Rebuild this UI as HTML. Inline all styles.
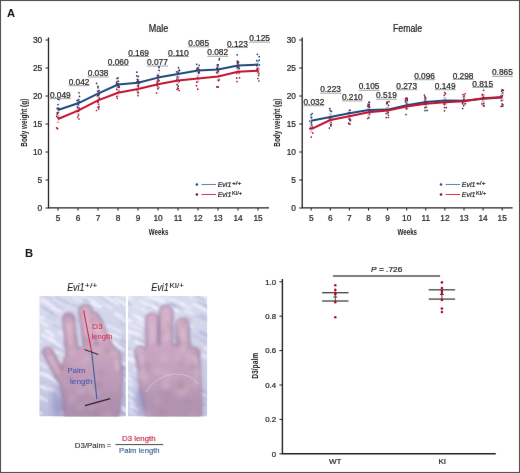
<!DOCTYPE html>
<html><head><meta charset="utf-8"><style>
html,body{margin:0;padding:0;background:#fff;}
svg{display:block;}
#wrap{will-change:transform;width:520px;height:473px;}
text{font-family:"Liberation Sans", sans-serif;}
</style></head><body><div id="wrap">
<svg width="520" height="473" viewBox="0 0 520 473" font-family='"Liberation Sans", sans-serif'><defs><filter id="gb" x="0" y="0" width="100%" height="100%" filterUnits="userSpaceOnUse" color-interpolation-filters="sRGB"><feConvolveMatrix order="3" kernelMatrix="0.00163 0.03713 0.00163 0.03713 0.84497 0.03713 0.00163 0.03713 0.00163" divisor="1" preserveAlpha="true" edgeMode="duplicate"/></filter></defs><g filter="url(#gb)"><rect x="0.5" y="0.5" width="519" height="472" fill="#fff" stroke="#505050" stroke-width="1.1"/><defs>
<filter id="bl2" x="-20%" y="-20%" width="140%" height="140%"><feGaussianBlur stdDeviation="1.5"/></filter>
<filter id="bl3" x="-30%" y="-30%" width="160%" height="160%"><feGaussianBlur stdDeviation="3"/></filter>
<filter id="bl1" x="-20%" y="-20%" width="140%" height="140%"><feGaussianBlur stdDeviation="0.6"/></filter>
<filter id="blM" x="-20%" y="-20%" width="140%" height="140%"><feGaussianBlur stdDeviation="2.2"/></filter>
<filter id="blS" x="-5%" y="-5%" width="110%" height="110%"><feGaussianBlur stdDeviation="0.9"/></filter>
<filter id="blt" x="-20%" y="-20%" width="140%" height="140%"><feGaussianBlur stdDeviation="0.3"/></filter>
<clipPath id="c1"><rect x="39.3" y="296" width="86.6" height="120.4"/></clipPath>
<clipPath id="c2"><rect x="128" y="296" width="79.3" height="120.4"/></clipPath>
<linearGradient id="bg1" x1="0" y1="0" x2="0.3" y2="1">
<stop offset="0" stop-color="#dcdef0"/><stop offset="0.55" stop-color="#d0d2e8"/><stop offset="1" stop-color="#b8bcdc"/></linearGradient>
<linearGradient id="bg2" x1="0" y1="0" x2="0.3" y2="1">
<stop offset="0" stop-color="#dcdef0"/><stop offset="0.6" stop-color="#d2d4ea"/><stop offset="1" stop-color="#c4c8e4"/></linearGradient>
<linearGradient id="pg1" gradientUnits="userSpaceOnUse" x1="0" y1="305" x2="0" y2="418">
<stop offset="0" stop-color="#d4aec8"/><stop offset="0.45" stop-color="#c6a2be"/><stop offset="1" stop-color="#b092b0"/></linearGradient>
<linearGradient id="pg2" gradientUnits="userSpaceOnUse" x1="0" y1="305" x2="0" y2="418">
<stop offset="0" stop-color="#d6b2cc"/><stop offset="0.45" stop-color="#c6a4c0"/><stop offset="1" stop-color="#b498b4"/></linearGradient>
</defs>
<g clip-path="url(#c1)">
<rect x="39.3" y="296" width="86.6" height="120.4" fill="url(#bg1)"/>
<g filter="url(#blS)">
<line x1="71.2" y1="360.5" x2="84.8" y2="367.5" stroke="#f4f6ff" stroke-opacity="0.73" stroke-width="1.9" stroke-linecap="round"/>
<line x1="77.3" y1="370.6" x2="90.2" y2="375.7" stroke="#f4f6ff" stroke-opacity="0.54" stroke-width="2.9" stroke-linecap="round"/>
<line x1="94.8" y1="291.9" x2="107.7" y2="301.0" stroke="#9aa0cc" stroke-opacity="0.48" stroke-width="1.2" stroke-linecap="round"/>
<line x1="32.7" y1="358.6" x2="38.8" y2="361.2" stroke="#f4f6ff" stroke-opacity="0.51" stroke-width="2.3" stroke-linecap="round"/>
<line x1="72.0" y1="398.0" x2="81.7" y2="403.7" stroke="#f4f6ff" stroke-opacity="0.76" stroke-width="2.3" stroke-linecap="round"/>
<line x1="54.5" y1="416.7" x2="67.8" y2="425.5" stroke="#9aa0cc" stroke-opacity="0.39" stroke-width="1.2" stroke-linecap="round"/>
<line x1="56.1" y1="297.1" x2="68.3" y2="303.2" stroke="#9aa0cc" stroke-opacity="0.42" stroke-width="2.0" stroke-linecap="round"/>
<line x1="112.8" y1="288.8" x2="119.5" y2="293.4" stroke="#f4f6ff" stroke-opacity="0.89" stroke-width="2.2" stroke-linecap="round"/>
<line x1="35.1" y1="370.2" x2="47.6" y2="375.9" stroke="#f4f6ff" stroke-opacity="0.63" stroke-width="3.1" stroke-linecap="round"/>
<line x1="103.6" y1="304.8" x2="111.5" y2="307.9" stroke="#f4f6ff" stroke-opacity="0.82" stroke-width="1.9" stroke-linecap="round"/>
<line x1="85.0" y1="347.3" x2="91.7" y2="351.4" stroke="#f4f6ff" stroke-opacity="0.76" stroke-width="1.8" stroke-linecap="round"/>
<line x1="71.4" y1="316.2" x2="78.5" y2="321.3" stroke="#9aa0cc" stroke-opacity="0.39" stroke-width="1.9" stroke-linecap="round"/>
<line x1="48.4" y1="338.7" x2="60.9" y2="346.1" stroke="#f4f6ff" stroke-opacity="0.90" stroke-width="1.9" stroke-linecap="round"/>
<line x1="55.0" y1="389.8" x2="63.5" y2="393.7" stroke="#f4f6ff" stroke-opacity="0.54" stroke-width="2.5" stroke-linecap="round"/>
<line x1="53.5" y1="367.2" x2="62.1" y2="371.6" stroke="#9aa0cc" stroke-opacity="0.45" stroke-width="1.6" stroke-linecap="round"/>
<line x1="114.9" y1="312.7" x2="121.1" y2="317.0" stroke="#9aa0cc" stroke-opacity="0.37" stroke-width="1.2" stroke-linecap="round"/>
<line x1="102.5" y1="411.3" x2="109.0" y2="415.9" stroke="#9aa0cc" stroke-opacity="0.48" stroke-width="1.4" stroke-linecap="round"/>
<line x1="37.2" y1="292.9" x2="51.5" y2="299.2" stroke="#9aa0cc" stroke-opacity="0.38" stroke-width="1.8" stroke-linecap="round"/>
<line x1="88.6" y1="327.2" x2="95.2" y2="331.3" stroke="#f4f6ff" stroke-opacity="0.59" stroke-width="2.5" stroke-linecap="round"/>
<line x1="113.0" y1="368.6" x2="120.3" y2="373.6" stroke="#f4f6ff" stroke-opacity="0.51" stroke-width="2.0" stroke-linecap="round"/>
<line x1="73.9" y1="297.2" x2="80.8" y2="300.6" stroke="#f4f6ff" stroke-opacity="0.55" stroke-width="2.2" stroke-linecap="round"/>
<line x1="115.0" y1="415.6" x2="125.7" y2="422.1" stroke="#f4f6ff" stroke-opacity="0.56" stroke-width="1.7" stroke-linecap="round"/>
<line x1="30.7" y1="405.9" x2="41.3" y2="413.5" stroke="#f4f6ff" stroke-opacity="0.75" stroke-width="2.4" stroke-linecap="round"/>
<line x1="97.4" y1="329.7" x2="112.3" y2="335.5" stroke="#f4f6ff" stroke-opacity="0.79" stroke-width="3.0" stroke-linecap="round"/>
<line x1="99.8" y1="378.8" x2="111.2" y2="386.7" stroke="#f4f6ff" stroke-opacity="0.77" stroke-width="3.0" stroke-linecap="round"/>
<line x1="112.7" y1="341.5" x2="124.2" y2="349.3" stroke="#f4f6ff" stroke-opacity="0.75" stroke-width="2.2" stroke-linecap="round"/>
<line x1="87.6" y1="368.7" x2="93.5" y2="372.1" stroke="#9aa0cc" stroke-opacity="0.56" stroke-width="1.7" stroke-linecap="round"/>
<line x1="66.6" y1="384.2" x2="77.1" y2="389.5" stroke="#9aa0cc" stroke-opacity="0.33" stroke-width="1.8" stroke-linecap="round"/>
<line x1="32.2" y1="367.2" x2="42.1" y2="371.6" stroke="#9aa0cc" stroke-opacity="0.45" stroke-width="1.6" stroke-linecap="round"/>
<line x1="120.4" y1="323.1" x2="126.0" y2="325.6" stroke="#9aa0cc" stroke-opacity="0.36" stroke-width="1.2" stroke-linecap="round"/>
<line x1="117.5" y1="374.1" x2="126.1" y2="380.0" stroke="#f4f6ff" stroke-opacity="0.77" stroke-width="1.9" stroke-linecap="round"/>
<line x1="69.7" y1="391.9" x2="82.2" y2="400.3" stroke="#f4f6ff" stroke-opacity="0.73" stroke-width="2.1" stroke-linecap="round"/>
<line x1="41.5" y1="351.8" x2="53.4" y2="359.7" stroke="#9aa0cc" stroke-opacity="0.59" stroke-width="1.3" stroke-linecap="round"/>
<line x1="46.6" y1="348.0" x2="54.7" y2="351.5" stroke="#f4f6ff" stroke-opacity="0.75" stroke-width="2.4" stroke-linecap="round"/>
<line x1="57.7" y1="396.8" x2="71.8" y2="404.0" stroke="#f4f6ff" stroke-opacity="0.51" stroke-width="3.0" stroke-linecap="round"/>
<line x1="33.0" y1="380.9" x2="43.6" y2="385.9" stroke="#9aa0cc" stroke-opacity="0.31" stroke-width="1.1" stroke-linecap="round"/>
<line x1="71.7" y1="291.3" x2="84.8" y2="297.1" stroke="#f4f6ff" stroke-opacity="0.52" stroke-width="2.6" stroke-linecap="round"/>
<line x1="72.2" y1="369.7" x2="82.7" y2="376.6" stroke="#9aa0cc" stroke-opacity="0.51" stroke-width="1.2" stroke-linecap="round"/>
<line x1="77.5" y1="312.9" x2="82.9" y2="315.7" stroke="#9aa0cc" stroke-opacity="0.35" stroke-width="1.3" stroke-linecap="round"/>
<line x1="62.8" y1="379.1" x2="72.6" y2="384.7" stroke="#9aa0cc" stroke-opacity="0.42" stroke-width="1.8" stroke-linecap="round"/>
<line x1="115.3" y1="298.4" x2="128.4" y2="306.4" stroke="#f4f6ff" stroke-opacity="0.68" stroke-width="2.6" stroke-linecap="round"/>
<line x1="117.4" y1="336.9" x2="127.0" y2="343.4" stroke="#9aa0cc" stroke-opacity="0.58" stroke-width="1.5" stroke-linecap="round"/>
<line x1="91.7" y1="314.1" x2="102.8" y2="321.3" stroke="#9aa0cc" stroke-opacity="0.52" stroke-width="1.2" stroke-linecap="round"/>
<line x1="114.3" y1="415.1" x2="128.2" y2="422.6" stroke="#9aa0cc" stroke-opacity="0.40" stroke-width="1.9" stroke-linecap="round"/>
<line x1="113.9" y1="334.9" x2="120.0" y2="338.0" stroke="#f4f6ff" stroke-opacity="0.81" stroke-width="2.4" stroke-linecap="round"/>
<line x1="34.3" y1="394.7" x2="39.8" y2="398.3" stroke="#f4f6ff" stroke-opacity="0.63" stroke-width="2.9" stroke-linecap="round"/>
<line x1="43.1" y1="307.5" x2="52.6" y2="313.3" stroke="#9aa0cc" stroke-opacity="0.51" stroke-width="1.9" stroke-linecap="round"/>
<line x1="78.7" y1="413.4" x2="85.0" y2="416.1" stroke="#f4f6ff" stroke-opacity="0.62" stroke-width="2.8" stroke-linecap="round"/>
<line x1="89.7" y1="355.7" x2="102.3" y2="362.7" stroke="#f4f6ff" stroke-opacity="0.65" stroke-width="3.0" stroke-linecap="round"/>
<line x1="115.4" y1="313.9" x2="127.2" y2="322.4" stroke="#f4f6ff" stroke-opacity="0.73" stroke-width="1.9" stroke-linecap="round"/>
<line x1="80.4" y1="354.5" x2="91.7" y2="358.7" stroke="#9aa0cc" stroke-opacity="0.45" stroke-width="1.4" stroke-linecap="round"/>
<line x1="107.0" y1="361.6" x2="116.4" y2="367.2" stroke="#f4f6ff" stroke-opacity="0.72" stroke-width="2.3" stroke-linecap="round"/>
<line x1="122.9" y1="409.4" x2="130.6" y2="413.4" stroke="#f4f6ff" stroke-opacity="0.67" stroke-width="2.9" stroke-linecap="round"/>
<line x1="117.1" y1="351.3" x2="125.5" y2="354.9" stroke="#9aa0cc" stroke-opacity="0.58" stroke-width="1.1" stroke-linecap="round"/>
<line x1="105.9" y1="292.4" x2="113.2" y2="295.6" stroke="#9aa0cc" stroke-opacity="0.40" stroke-width="1.4" stroke-linecap="round"/>
<line x1="88.0" y1="302.2" x2="100.3" y2="307.2" stroke="#f4f6ff" stroke-opacity="0.60" stroke-width="1.9" stroke-linecap="round"/>
<line x1="81.2" y1="345.8" x2="89.9" y2="350.1" stroke="#f4f6ff" stroke-opacity="0.56" stroke-width="1.9" stroke-linecap="round"/>
<line x1="90.6" y1="371.1" x2="100.0" y2="377.4" stroke="#9aa0cc" stroke-opacity="0.56" stroke-width="1.2" stroke-linecap="round"/>
<line x1="99.1" y1="393.5" x2="112.7" y2="399.9" stroke="#f4f6ff" stroke-opacity="0.87" stroke-width="1.9" stroke-linecap="round"/>
<line x1="127.4" y1="405.3" x2="134.1" y2="408.2" stroke="#9aa0cc" stroke-opacity="0.38" stroke-width="1.1" stroke-linecap="round"/>
<line x1="108.2" y1="343.4" x2="121.1" y2="348.6" stroke="#f4f6ff" stroke-opacity="0.77" stroke-width="1.6" stroke-linecap="round"/>
<line x1="47.6" y1="375.6" x2="59.9" y2="384.4" stroke="#f4f6ff" stroke-opacity="0.70" stroke-width="2.8" stroke-linecap="round"/>
<line x1="79.2" y1="379.0" x2="86.5" y2="381.8" stroke="#f4f6ff" stroke-opacity="0.51" stroke-width="2.5" stroke-linecap="round"/>
<line x1="80.6" y1="363.7" x2="87.5" y2="366.6" stroke="#f4f6ff" stroke-opacity="0.84" stroke-width="3.2" stroke-linecap="round"/>
<line x1="121.1" y1="301.5" x2="126.5" y2="305.3" stroke="#f4f6ff" stroke-opacity="0.81" stroke-width="2.1" stroke-linecap="round"/>
<line x1="74.9" y1="355.6" x2="83.9" y2="360.7" stroke="#f4f6ff" stroke-opacity="0.78" stroke-width="3.0" stroke-linecap="round"/>
<line x1="45.8" y1="347.2" x2="57.8" y2="353.2" stroke="#f4f6ff" stroke-opacity="0.57" stroke-width="2.4" stroke-linecap="round"/>
<line x1="29.8" y1="403.8" x2="41.8" y2="411.1" stroke="#9aa0cc" stroke-opacity="0.49" stroke-width="1.4" stroke-linecap="round"/>
<line x1="85.6" y1="352.5" x2="98.9" y2="361.1" stroke="#f4f6ff" stroke-opacity="0.86" stroke-width="2.8" stroke-linecap="round"/>
<line x1="105.3" y1="394.4" x2="113.6" y2="400.1" stroke="#9aa0cc" stroke-opacity="0.51" stroke-width="1.8" stroke-linecap="round"/>
<line x1="102.1" y1="341.5" x2="114.4" y2="346.3" stroke="#f4f6ff" stroke-opacity="0.69" stroke-width="1.6" stroke-linecap="round"/>
<line x1="63.1" y1="371.8" x2="74.3" y2="376.7" stroke="#9aa0cc" stroke-opacity="0.50" stroke-width="1.3" stroke-linecap="round"/>
<line x1="93.0" y1="362.8" x2="103.1" y2="367.8" stroke="#9aa0cc" stroke-opacity="0.49" stroke-width="1.7" stroke-linecap="round"/>
<line x1="105.2" y1="417.3" x2="110.6" y2="420.4" stroke="#9aa0cc" stroke-opacity="0.38" stroke-width="1.4" stroke-linecap="round"/>
<line x1="34.6" y1="314.7" x2="43.7" y2="318.3" stroke="#f4f6ff" stroke-opacity="0.86" stroke-width="2.5" stroke-linecap="round"/>
<line x1="78.6" y1="413.7" x2="88.1" y2="420.5" stroke="#9aa0cc" stroke-opacity="0.54" stroke-width="1.1" stroke-linecap="round"/>
<line x1="89.4" y1="388.2" x2="94.7" y2="391.9" stroke="#f4f6ff" stroke-opacity="0.69" stroke-width="1.9" stroke-linecap="round"/>
<line x1="79.5" y1="368.8" x2="84.9" y2="372.6" stroke="#f4f6ff" stroke-opacity="0.71" stroke-width="2.6" stroke-linecap="round"/>
<line x1="64.1" y1="325.2" x2="75.1" y2="331.3" stroke="#f4f6ff" stroke-opacity="0.79" stroke-width="2.1" stroke-linecap="round"/>
<line x1="32.7" y1="321.7" x2="38.6" y2="324.2" stroke="#9aa0cc" stroke-opacity="0.42" stroke-width="1.9" stroke-linecap="round"/>
<line x1="100.1" y1="293.0" x2="113.1" y2="302.1" stroke="#f4f6ff" stroke-opacity="0.86" stroke-width="2.3" stroke-linecap="round"/>
<line x1="76.7" y1="415.9" x2="84.1" y2="419.9" stroke="#9aa0cc" stroke-opacity="0.52" stroke-width="1.5" stroke-linecap="round"/>
<line x1="123.3" y1="395.3" x2="134.4" y2="399.7" stroke="#9aa0cc" stroke-opacity="0.44" stroke-width="1.2" stroke-linecap="round"/>
<line x1="36.1" y1="358.2" x2="42.6" y2="361.5" stroke="#9aa0cc" stroke-opacity="0.44" stroke-width="1.3" stroke-linecap="round"/>
<line x1="84.5" y1="342.4" x2="96.6" y2="349.0" stroke="#9aa0cc" stroke-opacity="0.59" stroke-width="1.7" stroke-linecap="round"/>
<line x1="51.0" y1="301.8" x2="63.6" y2="309.9" stroke="#9aa0cc" stroke-opacity="0.41" stroke-width="1.3" stroke-linecap="round"/>
<line x1="95.3" y1="361.7" x2="105.6" y2="367.7" stroke="#9aa0cc" stroke-opacity="0.36" stroke-width="1.2" stroke-linecap="round"/>
<line x1="122.0" y1="407.8" x2="135.9" y2="413.0" stroke="#f4f6ff" stroke-opacity="0.61" stroke-width="2.3" stroke-linecap="round"/>
<line x1="89.2" y1="302.3" x2="99.8" y2="306.4" stroke="#f4f6ff" stroke-opacity="0.77" stroke-width="2.5" stroke-linecap="round"/>
<line x1="90.3" y1="337.5" x2="100.2" y2="341.8" stroke="#f4f6ff" stroke-opacity="0.80" stroke-width="2.9" stroke-linecap="round"/>
<line x1="35.4" y1="303.1" x2="47.6" y2="310.1" stroke="#9aa0cc" stroke-opacity="0.36" stroke-width="1.4" stroke-linecap="round"/>
<line x1="55.1" y1="394.2" x2="63.4" y2="399.1" stroke="#9aa0cc" stroke-opacity="0.40" stroke-width="1.5" stroke-linecap="round"/>
<line x1="101.8" y1="408.8" x2="111.0" y2="413.3" stroke="#f4f6ff" stroke-opacity="0.85" stroke-width="1.7" stroke-linecap="round"/>
<line x1="37.7" y1="361.8" x2="47.0" y2="367.4" stroke="#f4f6ff" stroke-opacity="0.81" stroke-width="1.7" stroke-linecap="round"/>
<line x1="51.8" y1="375.9" x2="58.0" y2="378.8" stroke="#9aa0cc" stroke-opacity="0.51" stroke-width="1.3" stroke-linecap="round"/>
<line x1="42.1" y1="334.8" x2="54.1" y2="340.5" stroke="#f4f6ff" stroke-opacity="0.78" stroke-width="2.5" stroke-linecap="round"/>
<line x1="116.3" y1="410.1" x2="129.8" y2="417.0" stroke="#9aa0cc" stroke-opacity="0.39" stroke-width="1.3" stroke-linecap="round"/>
<line x1="66.1" y1="409.8" x2="79.7" y2="415.9" stroke="#f4f6ff" stroke-opacity="0.65" stroke-width="2.2" stroke-linecap="round"/>
<line x1="69.0" y1="339.6" x2="76.0" y2="343.5" stroke="#9aa0cc" stroke-opacity="0.46" stroke-width="1.8" stroke-linecap="round"/>
<line x1="83.0" y1="310.2" x2="94.3" y2="317.8" stroke="#f4f6ff" stroke-opacity="0.51" stroke-width="2.4" stroke-linecap="round"/>
<line x1="80.1" y1="361.0" x2="93.6" y2="369.0" stroke="#9aa0cc" stroke-opacity="0.32" stroke-width="1.5" stroke-linecap="round"/>
<line x1="107.5" y1="300.2" x2="113.3" y2="303.8" stroke="#9aa0cc" stroke-opacity="0.33" stroke-width="1.6" stroke-linecap="round"/>
<line x1="42.5" y1="385.7" x2="53.9" y2="390.8" stroke="#f4f6ff" stroke-opacity="0.81" stroke-width="2.4" stroke-linecap="round"/>
<line x1="104.4" y1="339.7" x2="112.0" y2="345.1" stroke="#9aa0cc" stroke-opacity="0.45" stroke-width="1.5" stroke-linecap="round"/>
<line x1="97.2" y1="380.0" x2="110.7" y2="386.7" stroke="#9aa0cc" stroke-opacity="0.50" stroke-width="1.9" stroke-linecap="round"/>
<line x1="106.1" y1="395.4" x2="118.2" y2="404.0" stroke="#9aa0cc" stroke-opacity="0.46" stroke-width="1.7" stroke-linecap="round"/>
<line x1="107.1" y1="344.0" x2="116.5" y2="347.9" stroke="#9aa0cc" stroke-opacity="0.60" stroke-width="1.4" stroke-linecap="round"/>
<line x1="45.8" y1="315.5" x2="55.2" y2="319.8" stroke="#9aa0cc" stroke-opacity="0.32" stroke-width="1.3" stroke-linecap="round"/>
<line x1="39.1" y1="372.8" x2="51.7" y2="378.2" stroke="#f4f6ff" stroke-opacity="0.68" stroke-width="2.5" stroke-linecap="round"/>
<line x1="118.9" y1="294.4" x2="125.4" y2="297.1" stroke="#f4f6ff" stroke-opacity="0.59" stroke-width="2.7" stroke-linecap="round"/>
<line x1="88.2" y1="318.6" x2="95.3" y2="321.8" stroke="#f4f6ff" stroke-opacity="0.80" stroke-width="2.1" stroke-linecap="round"/>
<line x1="82.3" y1="395.3" x2="92.2" y2="399.8" stroke="#9aa0cc" stroke-opacity="0.57" stroke-width="1.3" stroke-linecap="round"/>
<line x1="82.2" y1="413.6" x2="92.1" y2="418.0" stroke="#f4f6ff" stroke-opacity="0.88" stroke-width="2.9" stroke-linecap="round"/>
<line x1="66.4" y1="357.5" x2="76.6" y2="362.1" stroke="#9aa0cc" stroke-opacity="0.50" stroke-width="1.2" stroke-linecap="round"/>
<line x1="31.3" y1="350.0" x2="39.4" y2="355.3" stroke="#9aa0cc" stroke-opacity="0.48" stroke-width="1.2" stroke-linecap="round"/>
<line x1="45.9" y1="330.6" x2="53.0" y2="335.4" stroke="#f4f6ff" stroke-opacity="0.75" stroke-width="3.2" stroke-linecap="round"/>
<line x1="56.9" y1="358.7" x2="63.2" y2="362.7" stroke="#f4f6ff" stroke-opacity="0.83" stroke-width="3.0" stroke-linecap="round"/>
<line x1="110.0" y1="299.5" x2="117.4" y2="304.0" stroke="#f4f6ff" stroke-opacity="0.69" stroke-width="2.3" stroke-linecap="round"/>
<line x1="120.0" y1="364.4" x2="133.2" y2="370.6" stroke="#9aa0cc" stroke-opacity="0.43" stroke-width="1.9" stroke-linecap="round"/>
<line x1="39.5" y1="396.8" x2="46.6" y2="400.7" stroke="#f4f6ff" stroke-opacity="0.56" stroke-width="2.9" stroke-linecap="round"/>
<line x1="61.3" y1="330.1" x2="67.4" y2="332.9" stroke="#f4f6ff" stroke-opacity="0.79" stroke-width="2.2" stroke-linecap="round"/>
<line x1="96.3" y1="302.5" x2="105.1" y2="307.1" stroke="#9aa0cc" stroke-opacity="0.55" stroke-width="1.7" stroke-linecap="round"/>
<line x1="29.5" y1="337.5" x2="41.5" y2="342.8" stroke="#f4f6ff" stroke-opacity="0.68" stroke-width="1.6" stroke-linecap="round"/>
<line x1="126.6" y1="393.2" x2="133.6" y2="397.3" stroke="#f4f6ff" stroke-opacity="0.65" stroke-width="2.5" stroke-linecap="round"/>
<line x1="58.8" y1="332.5" x2="67.4" y2="337.5" stroke="#f4f6ff" stroke-opacity="0.58" stroke-width="2.8" stroke-linecap="round"/>
<line x1="61.2" y1="411.2" x2="71.1" y2="417.3" stroke="#f4f6ff" stroke-opacity="0.83" stroke-width="1.7" stroke-linecap="round"/>
<line x1="42.4" y1="300.0" x2="53.4" y2="306.6" stroke="#f4f6ff" stroke-opacity="0.66" stroke-width="2.9" stroke-linecap="round"/>
<line x1="87.7" y1="301.2" x2="95.4" y2="304.3" stroke="#f4f6ff" stroke-opacity="0.66" stroke-width="1.7" stroke-linecap="round"/>
<line x1="118.4" y1="343.9" x2="128.0" y2="349.5" stroke="#9aa0cc" stroke-opacity="0.55" stroke-width="1.4" stroke-linecap="round"/>
<line x1="63.6" y1="343.4" x2="69.1" y2="346.1" stroke="#9aa0cc" stroke-opacity="0.59" stroke-width="1.8" stroke-linecap="round"/>
<line x1="95.3" y1="369.0" x2="100.9" y2="371.7" stroke="#f4f6ff" stroke-opacity="0.76" stroke-width="1.8" stroke-linecap="round"/>
<line x1="65.0" y1="353.6" x2="76.6" y2="361.2" stroke="#9aa0cc" stroke-opacity="0.35" stroke-width="1.8" stroke-linecap="round"/>
<line x1="117.3" y1="360.3" x2="125.7" y2="364.7" stroke="#f4f6ff" stroke-opacity="0.79" stroke-width="3.2" stroke-linecap="round"/>
<line x1="77.5" y1="381.5" x2="90.7" y2="387.1" stroke="#9aa0cc" stroke-opacity="0.49" stroke-width="1.2" stroke-linecap="round"/>
<line x1="37.3" y1="319.9" x2="47.4" y2="325.9" stroke="#f4f6ff" stroke-opacity="0.87" stroke-width="2.2" stroke-linecap="round"/>
<line x1="71.7" y1="304.2" x2="86.3" y2="310.1" stroke="#9aa0cc" stroke-opacity="0.46" stroke-width="1.6" stroke-linecap="round"/>
<line x1="82.3" y1="321.1" x2="94.5" y2="329.9" stroke="#9aa0cc" stroke-opacity="0.48" stroke-width="1.1" stroke-linecap="round"/>
<line x1="107.1" y1="325.6" x2="120.8" y2="331.7" stroke="#f4f6ff" stroke-opacity="0.83" stroke-width="1.9" stroke-linecap="round"/>
<line x1="84.3" y1="299.7" x2="90.1" y2="302.2" stroke="#9aa0cc" stroke-opacity="0.58" stroke-width="1.7" stroke-linecap="round"/>
<line x1="58.0" y1="375.6" x2="70.0" y2="381.5" stroke="#f4f6ff" stroke-opacity="0.82" stroke-width="1.6" stroke-linecap="round"/>
<line x1="50.2" y1="350.4" x2="56.9" y2="353.7" stroke="#f4f6ff" stroke-opacity="0.57" stroke-width="2.4" stroke-linecap="round"/>
<line x1="55.7" y1="362.7" x2="63.8" y2="367.4" stroke="#f4f6ff" stroke-opacity="0.77" stroke-width="1.8" stroke-linecap="round"/>
<line x1="122.2" y1="366.9" x2="131.8" y2="371.6" stroke="#9aa0cc" stroke-opacity="0.51" stroke-width="1.8" stroke-linecap="round"/>
<line x1="100.3" y1="350.0" x2="113.6" y2="358.7" stroke="#9aa0cc" stroke-opacity="0.42" stroke-width="1.4" stroke-linecap="round"/>
<line x1="84.0" y1="406.4" x2="93.9" y2="411.7" stroke="#f4f6ff" stroke-opacity="0.86" stroke-width="2.1" stroke-linecap="round"/>
<line x1="33.2" y1="381.7" x2="46.0" y2="389.6" stroke="#f4f6ff" stroke-opacity="0.80" stroke-width="2.1" stroke-linecap="round"/>
<line x1="88.4" y1="298.4" x2="94.8" y2="301.8" stroke="#f4f6ff" stroke-opacity="0.66" stroke-width="1.7" stroke-linecap="round"/>
<line x1="97.6" y1="357.9" x2="105.2" y2="361.4" stroke="#f4f6ff" stroke-opacity="0.59" stroke-width="1.7" stroke-linecap="round"/>
<line x1="117.1" y1="413.5" x2="127.6" y2="420.6" stroke="#f4f6ff" stroke-opacity="0.82" stroke-width="2.0" stroke-linecap="round"/>
<line x1="99.4" y1="362.1" x2="113.4" y2="367.7" stroke="#9aa0cc" stroke-opacity="0.34" stroke-width="1.5" stroke-linecap="round"/>
<line x1="122.3" y1="289.3" x2="130.0" y2="292.8" stroke="#f4f6ff" stroke-opacity="0.53" stroke-width="3.0" stroke-linecap="round"/>
<line x1="108.9" y1="340.5" x2="117.2" y2="345.1" stroke="#f4f6ff" stroke-opacity="0.51" stroke-width="3.0" stroke-linecap="round"/>
<line x1="57.8" y1="351.5" x2="70.3" y2="360.5" stroke="#f4f6ff" stroke-opacity="0.58" stroke-width="2.1" stroke-linecap="round"/>
<line x1="120.1" y1="405.8" x2="126.7" y2="410.1" stroke="#f4f6ff" stroke-opacity="0.69" stroke-width="1.9" stroke-linecap="round"/>
<line x1="115.8" y1="418.8" x2="122.7" y2="422.8" stroke="#f4f6ff" stroke-opacity="0.85" stroke-width="1.7" stroke-linecap="round"/>
<line x1="40.8" y1="383.1" x2="48.3" y2="388.2" stroke="#9aa0cc" stroke-opacity="0.51" stroke-width="1.1" stroke-linecap="round"/>
<line x1="96.7" y1="411.4" x2="106.4" y2="415.2" stroke="#f4f6ff" stroke-opacity="0.62" stroke-width="2.7" stroke-linecap="round"/>
<line x1="49.7" y1="312.5" x2="56.9" y2="316.7" stroke="#9aa0cc" stroke-opacity="0.41" stroke-width="1.7" stroke-linecap="round"/>
<line x1="116.0" y1="366.2" x2="123.5" y2="369.7" stroke="#9aa0cc" stroke-opacity="0.50" stroke-width="1.3" stroke-linecap="round"/>
<line x1="89.1" y1="299.1" x2="103.2" y2="306.3" stroke="#f4f6ff" stroke-opacity="0.71" stroke-width="1.7" stroke-linecap="round"/>
<line x1="88.7" y1="325.8" x2="95.8" y2="330.4" stroke="#f4f6ff" stroke-opacity="0.61" stroke-width="2.8" stroke-linecap="round"/>
<line x1="52.8" y1="325.2" x2="63.3" y2="329.6" stroke="#9aa0cc" stroke-opacity="0.60" stroke-width="1.0" stroke-linecap="round"/>
<line x1="74.9" y1="386.1" x2="82.9" y2="391.7" stroke="#f4f6ff" stroke-opacity="0.57" stroke-width="2.5" stroke-linecap="round"/>
<line x1="91.3" y1="334.5" x2="101.9" y2="341.3" stroke="#f4f6ff" stroke-opacity="0.70" stroke-width="3.0" stroke-linecap="round"/>
<line x1="93.2" y1="355.9" x2="107.6" y2="361.9" stroke="#9aa0cc" stroke-opacity="0.35" stroke-width="1.6" stroke-linecap="round"/>
<line x1="51.2" y1="344.7" x2="62.8" y2="352.1" stroke="#9aa0cc" stroke-opacity="0.37" stroke-width="1.5" stroke-linecap="round"/>
<line x1="50.5" y1="364.7" x2="60.8" y2="368.6" stroke="#f4f6ff" stroke-opacity="0.79" stroke-width="2.5" stroke-linecap="round"/>
<line x1="115.1" y1="313.2" x2="122.1" y2="315.8" stroke="#f4f6ff" stroke-opacity="0.67" stroke-width="2.3" stroke-linecap="round"/>
<line x1="56.9" y1="393.2" x2="62.5" y2="397.0" stroke="#f4f6ff" stroke-opacity="0.72" stroke-width="2.9" stroke-linecap="round"/>
<line x1="53.0" y1="308.5" x2="61.6" y2="311.7" stroke="#f4f6ff" stroke-opacity="0.75" stroke-width="2.4" stroke-linecap="round"/>
</g>
<g filter="url(#bl2)">
<g stroke="#927494" fill="#927494" stroke-linecap="round" opacity="0.9">
<line x1="48" y1="352" x2="66" y2="386" stroke-width="11.2"/>
<line x1="68.5" y1="319" x2="73" y2="360" stroke-width="12.7"/>
<line x1="85.5" y1="311" x2="91" y2="352" stroke-width="14.2"/>
<line x1="93" y1="319" x2="108" y2="352" stroke-width="14.7"/>
<line x1="115.5" y1="356" x2="118" y2="378" stroke-width="11.2"/>
<path d="M65 418 L62 392 Q61 366 66 356 L80 348 L108 343 Q118 348 121 362 L121 392 L118 418 Z" stroke-width="2.2" stroke-linejoin="round"/>
</g>
<g stroke="url(#pg1)" fill="url(#pg1)" stroke-linecap="round">
<line x1="48" y1="352" x2="66" y2="386" stroke-width="8"/>
<line x1="68.5" y1="319" x2="73" y2="360" stroke-width="9.5"/>
<line x1="85.5" y1="311" x2="91" y2="352" stroke-width="11"/>
<line x1="93" y1="319" x2="108" y2="352" stroke-width="11.5"/>
<line x1="115.5" y1="356" x2="118" y2="378" stroke-width="8"/>
<path d="M65 418 L62 392 Q61 366 66 356 L80 348 L108 343 Q118 348 121 362 L121 392 L118 418 Z" stroke-width="0" />
</g>
</g>
<g filter="url(#bl2)" stroke="#dbbcd0" stroke-linecap="round" opacity="0.75">
<line x1="49.8" y1="357.4" x2="58.8" y2="372.4" stroke-width="3.6"/>
<line x1="69.0" y1="325.1" x2="71.2" y2="343.6" stroke-width="4.2"/>
<line x1="86.0" y1="317.1" x2="88.8" y2="335.6" stroke-width="4.8"/>
<line x1="94.5" y1="324.3" x2="102.0" y2="338.8" stroke-width="5.0"/>
<line x1="115.8" y1="360.2" x2="117.0" y2="369.2" stroke-width="3.6"/>
</g>
<g filter="url(#blM)">
<ellipse cx="93.6" cy="387.5" rx="3.8" ry="4.6" fill="#b08c8c" opacity="0.30"/>
<ellipse cx="72.0" cy="402.5" rx="2.5" ry="3.0" fill="#e4c6d8" opacity="0.36"/>
<ellipse cx="64.0" cy="408.1" rx="2.7" ry="4.0" fill="#9a7898" opacity="0.31"/>
<ellipse cx="106.5" cy="413.3" rx="4.9" ry="3.8" fill="#e4c6d8" opacity="0.31"/>
<ellipse cx="98.3" cy="324.2" rx="4.9" ry="3.5" fill="#b08c8c" opacity="0.23"/>
<ellipse cx="68.5" cy="396.5" rx="3.3" ry="3.3" fill="#b08c8c" opacity="0.30"/>
<ellipse cx="110.4" cy="356.7" rx="2.9" ry="3.1" fill="#dcbcd0" opacity="0.34"/>
<ellipse cx="70.8" cy="347.7" rx="3.9" ry="2.5" fill="#a88296" opacity="0.25"/>
<ellipse cx="105.0" cy="409.7" rx="4.7" ry="3.1" fill="#a88296" opacity="0.28"/>
<ellipse cx="79.8" cy="369.6" rx="2.6" ry="4.9" fill="#a88296" opacity="0.33"/>
<ellipse cx="92.5" cy="408.3" rx="3.3" ry="3.3" fill="#e8d0dc" opacity="0.36"/>
<ellipse cx="60.4" cy="370.1" rx="2.9" ry="4.9" fill="#a88296" opacity="0.30"/>
<ellipse cx="94.9" cy="394.6" rx="4.3" ry="4.9" fill="#e4c6d8" opacity="0.28"/>
<ellipse cx="94.2" cy="393.0" rx="2.6" ry="3.6" fill="#dcbcd0" opacity="0.32"/>
<ellipse cx="93.4" cy="320.0" rx="3.3" ry="3.2" fill="#a88296" opacity="0.30"/>
<ellipse cx="80.4" cy="406.4" rx="4.1" ry="3.7" fill="#e8d0dc" opacity="0.44"/>
<ellipse cx="63.4" cy="392.3" rx="4.5" ry="3.4" fill="#a88296" opacity="0.21"/>
<ellipse cx="66.3" cy="366.0" rx="5.0" ry="4.3" fill="#a88296" opacity="0.24"/>
<ellipse cx="80.8" cy="391.3" rx="4.5" ry="4.1" fill="#dcbcd0" opacity="0.34"/>
<ellipse cx="95.4" cy="387.1" rx="2.9" ry="4.7" fill="#a88296" opacity="0.34"/>
<ellipse cx="68.8" cy="316.7" rx="4.8" ry="3.7" fill="#9a7898" opacity="0.33"/>
<ellipse cx="99.5" cy="384.9" rx="4.8" ry="3.8" fill="#9a7898" opacity="0.29"/>
<ellipse cx="87.6" cy="402.3" rx="4.0" ry="4.1" fill="#e4c6d8" opacity="0.29"/>
<ellipse cx="81.5" cy="364.7" rx="4.0" ry="4.0" fill="#dcbcd0" opacity="0.33"/>
<ellipse cx="86.9" cy="340.0" rx="3.5" ry="4.5" fill="#a88296" opacity="0.32"/>
<ellipse cx="88.5" cy="413.0" rx="4.6" ry="4.2" fill="#b08c8c" opacity="0.21"/>
<ellipse cx="72.8" cy="338.5" rx="4.1" ry="4.7" fill="#b08c8c" opacity="0.22"/>
<ellipse cx="72.3" cy="350.9" rx="4.3" ry="3.5" fill="#dcbcd0" opacity="0.35"/>
<ellipse cx="91.1" cy="387.4" rx="3.3" ry="5.0" fill="#dcbcd0" opacity="0.33"/>
<ellipse cx="93.5" cy="352.3" rx="2.5" ry="3.8" fill="#e4c6d8" opacity="0.42"/>
<ellipse cx="92.3" cy="356.0" rx="4.7" ry="2.5" fill="#b08c8c" opacity="0.33"/>
<ellipse cx="100.9" cy="372.4" rx="3.4" ry="4.4" fill="#9a7898" opacity="0.27"/>
<ellipse cx="106.9" cy="350.5" rx="4.1" ry="4.6" fill="#b08c8c" opacity="0.34"/>
<ellipse cx="112.3" cy="356.1" rx="3.2" ry="4.6" fill="#b08c8c" opacity="0.23"/>
<ellipse cx="99.7" cy="351.1" rx="2.9" ry="3.7" fill="#dcbcd0" opacity="0.43"/>
<ellipse cx="87.2" cy="358.7" rx="3.9" ry="2.6" fill="#e4c6d8" opacity="0.34"/>
<ellipse cx="103.0" cy="331.5" rx="2.6" ry="4.3" fill="#e4c6d8" opacity="0.38"/>
<ellipse cx="95.5" cy="412.4" rx="4.3" ry="3.6" fill="#9a7898" opacity="0.35"/>
<ellipse cx="58.3" cy="365.6" rx="2.6" ry="3.9" fill="#b08c8c" opacity="0.21"/>
<ellipse cx="103.8" cy="403.7" rx="4.2" ry="3.7" fill="#dcbcd0" opacity="0.27"/>
<ellipse cx="70.4" cy="377.4" rx="2.9" ry="4.1" fill="#9a7898" opacity="0.30"/>
<ellipse cx="83.5" cy="407.4" rx="2.7" ry="3.1" fill="#b08c8c" opacity="0.23"/>
<ellipse cx="114.3" cy="353.5" rx="4.1" ry="2.7" fill="#e4c6d8" opacity="0.39"/>
<ellipse cx="98.6" cy="326.3" rx="3.0" ry="4.3" fill="#e8d0dc" opacity="0.35"/>
<ellipse cx="72.3" cy="398.6" rx="4.5" ry="3.4" fill="#e8d0dc" opacity="0.39"/>
</g>
<path filter="url(#bl3)" fill="#a88aa8" opacity="0.5" d="M66 396 L120 392 L122 418 L64 418 Z"/>
<ellipse filter="url(#bl3)" cx="58" cy="402" rx="6" ry="16" fill="#8a84bc" opacity="0.55"/>
<g filter="url(#blt)">
<line x1="83.6" y1="310.5" x2="91.6" y2="351.5" stroke="#d8203c" stroke-width="1.1"/>
<line x1="91.6" y1="351.5" x2="96.9" y2="399" stroke="#3c5ca0" stroke-width="1.1"/>
<line x1="84.6" y1="349.6" x2="98.3" y2="354.5" stroke="#303040" stroke-width="1.1"/>
<line x1="85" y1="405.6" x2="110.2" y2="398.6" stroke="#302028" stroke-width="1.4"/>
<text x="92" y="329.4" font-size="7.9" fill="#d82040" textLength="10.6" lengthAdjust="spacingAndGlyphs">D3</text>
<text x="91.6" y="338.6" font-size="7.9" fill="#d82040" textLength="20.8" lengthAdjust="spacingAndGlyphs">length</text>
<text x="67.4" y="372.8" font-size="7.9" fill="#3850a8" textLength="17.8" lengthAdjust="spacingAndGlyphs">Palm</text>
<text x="70" y="384.2" font-size="7.9" fill="#3850a8" textLength="22.6" lengthAdjust="spacingAndGlyphs">length</text>
</g>
</g>
<g clip-path="url(#c2)">
<rect x="128" y="296" width="79.3" height="120.4" fill="url(#bg2)"/>
<g filter="url(#blS)">
<line x1="143.8" y1="365.9" x2="149.5" y2="369.6" stroke="#f4f6ff" stroke-opacity="0.60" stroke-width="1.9" stroke-linecap="round"/>
<line x1="178.2" y1="396.9" x2="191.2" y2="401.8" stroke="#f4f6ff" stroke-opacity="0.65" stroke-width="1.9" stroke-linecap="round"/>
<line x1="205.1" y1="293.6" x2="214.3" y2="299.4" stroke="#9aa0cc" stroke-opacity="0.34" stroke-width="1.5" stroke-linecap="round"/>
<line x1="186.0" y1="293.7" x2="193.0" y2="298.5" stroke="#f4f6ff" stroke-opacity="0.66" stroke-width="2.1" stroke-linecap="round"/>
<line x1="158.3" y1="299.1" x2="163.5" y2="302.8" stroke="#9aa0cc" stroke-opacity="0.52" stroke-width="1.2" stroke-linecap="round"/>
<line x1="141.9" y1="361.0" x2="149.3" y2="364.9" stroke="#9aa0cc" stroke-opacity="0.41" stroke-width="1.3" stroke-linecap="round"/>
<line x1="207.8" y1="369.2" x2="213.5" y2="372.1" stroke="#9aa0cc" stroke-opacity="0.32" stroke-width="1.3" stroke-linecap="round"/>
<line x1="180.1" y1="400.4" x2="190.0" y2="407.1" stroke="#f4f6ff" stroke-opacity="0.66" stroke-width="2.9" stroke-linecap="round"/>
<line x1="153.4" y1="391.1" x2="160.7" y2="394.6" stroke="#f4f6ff" stroke-opacity="0.72" stroke-width="1.9" stroke-linecap="round"/>
<line x1="136.3" y1="316.7" x2="146.0" y2="321.2" stroke="#f4f6ff" stroke-opacity="0.90" stroke-width="2.7" stroke-linecap="round"/>
<line x1="195.5" y1="315.9" x2="204.6" y2="319.5" stroke="#9aa0cc" stroke-opacity="0.41" stroke-width="1.3" stroke-linecap="round"/>
<line x1="120.8" y1="312.8" x2="128.5" y2="316.6" stroke="#9aa0cc" stroke-opacity="0.51" stroke-width="1.3" stroke-linecap="round"/>
<line x1="148.3" y1="307.7" x2="162.2" y2="314.4" stroke="#9aa0cc" stroke-opacity="0.52" stroke-width="1.9" stroke-linecap="round"/>
<line x1="120.2" y1="331.2" x2="129.4" y2="334.8" stroke="#9aa0cc" stroke-opacity="0.40" stroke-width="1.8" stroke-linecap="round"/>
<line x1="164.8" y1="296.2" x2="173.9" y2="300.2" stroke="#f4f6ff" stroke-opacity="0.56" stroke-width="2.6" stroke-linecap="round"/>
<line x1="121.3" y1="329.3" x2="130.3" y2="334.2" stroke="#f4f6ff" stroke-opacity="0.78" stroke-width="2.0" stroke-linecap="round"/>
<line x1="184.4" y1="376.4" x2="191.2" y2="379.3" stroke="#f4f6ff" stroke-opacity="0.79" stroke-width="2.2" stroke-linecap="round"/>
<line x1="153.8" y1="402.2" x2="161.3" y2="405.6" stroke="#f4f6ff" stroke-opacity="0.59" stroke-width="1.7" stroke-linecap="round"/>
<line x1="120.3" y1="370.0" x2="130.1" y2="376.4" stroke="#9aa0cc" stroke-opacity="0.39" stroke-width="1.7" stroke-linecap="round"/>
<line x1="199.5" y1="315.9" x2="210.6" y2="322.5" stroke="#9aa0cc" stroke-opacity="0.56" stroke-width="1.2" stroke-linecap="round"/>
<line x1="174.9" y1="300.4" x2="184.1" y2="305.0" stroke="#f4f6ff" stroke-opacity="0.65" stroke-width="2.1" stroke-linecap="round"/>
<line x1="164.0" y1="325.8" x2="170.8" y2="329.2" stroke="#f4f6ff" stroke-opacity="0.57" stroke-width="2.7" stroke-linecap="round"/>
<line x1="140.2" y1="301.0" x2="148.6" y2="305.3" stroke="#f4f6ff" stroke-opacity="0.73" stroke-width="2.7" stroke-linecap="round"/>
<line x1="169.6" y1="380.9" x2="175.2" y2="383.7" stroke="#f4f6ff" stroke-opacity="0.53" stroke-width="2.2" stroke-linecap="round"/>
<line x1="122.6" y1="352.9" x2="133.1" y2="358.4" stroke="#f4f6ff" stroke-opacity="0.60" stroke-width="1.6" stroke-linecap="round"/>
<line x1="148.7" y1="404.9" x2="159.3" y2="409.7" stroke="#9aa0cc" stroke-opacity="0.36" stroke-width="1.5" stroke-linecap="round"/>
<line x1="173.7" y1="413.1" x2="182.1" y2="417.8" stroke="#9aa0cc" stroke-opacity="0.53" stroke-width="1.6" stroke-linecap="round"/>
<line x1="173.8" y1="342.5" x2="183.1" y2="346.7" stroke="#9aa0cc" stroke-opacity="0.56" stroke-width="1.4" stroke-linecap="round"/>
<line x1="201.0" y1="294.2" x2="207.5" y2="297.7" stroke="#f4f6ff" stroke-opacity="0.64" stroke-width="3.2" stroke-linecap="round"/>
<line x1="132.8" y1="314.0" x2="139.9" y2="318.2" stroke="#f4f6ff" stroke-opacity="0.50" stroke-width="2.5" stroke-linecap="round"/>
<line x1="153.5" y1="319.4" x2="162.9" y2="325.0" stroke="#f4f6ff" stroke-opacity="0.75" stroke-width="2.5" stroke-linecap="round"/>
<line x1="193.0" y1="415.3" x2="201.4" y2="419.3" stroke="#9aa0cc" stroke-opacity="0.39" stroke-width="1.7" stroke-linecap="round"/>
<line x1="178.6" y1="376.2" x2="191.6" y2="384.8" stroke="#f4f6ff" stroke-opacity="0.75" stroke-width="2.4" stroke-linecap="round"/>
<line x1="169.6" y1="336.8" x2="177.1" y2="341.5" stroke="#f4f6ff" stroke-opacity="0.59" stroke-width="2.0" stroke-linecap="round"/>
<line x1="146.9" y1="312.1" x2="157.2" y2="316.3" stroke="#f4f6ff" stroke-opacity="0.53" stroke-width="1.8" stroke-linecap="round"/>
<line x1="181.5" y1="302.9" x2="190.4" y2="308.5" stroke="#f4f6ff" stroke-opacity="0.57" stroke-width="3.0" stroke-linecap="round"/>
<line x1="196.9" y1="296.0" x2="204.4" y2="300.0" stroke="#9aa0cc" stroke-opacity="0.42" stroke-width="1.7" stroke-linecap="round"/>
<line x1="141.3" y1="382.3" x2="149.7" y2="386.3" stroke="#9aa0cc" stroke-opacity="0.55" stroke-width="1.8" stroke-linecap="round"/>
<line x1="168.0" y1="342.6" x2="179.3" y2="349.1" stroke="#9aa0cc" stroke-opacity="0.54" stroke-width="1.1" stroke-linecap="round"/>
<line x1="152.8" y1="376.7" x2="160.5" y2="379.9" stroke="#f4f6ff" stroke-opacity="0.73" stroke-width="3.1" stroke-linecap="round"/>
<line x1="203.9" y1="305.5" x2="215.4" y2="311.3" stroke="#9aa0cc" stroke-opacity="0.42" stroke-width="1.9" stroke-linecap="round"/>
<line x1="205.2" y1="294.9" x2="217.4" y2="299.8" stroke="#f4f6ff" stroke-opacity="0.61" stroke-width="2.8" stroke-linecap="round"/>
<line x1="207.4" y1="305.0" x2="216.1" y2="308.3" stroke="#f4f6ff" stroke-opacity="0.69" stroke-width="2.2" stroke-linecap="round"/>
<line x1="144.1" y1="392.4" x2="157.2" y2="398.4" stroke="#f4f6ff" stroke-opacity="0.75" stroke-width="2.8" stroke-linecap="round"/>
<line x1="204.9" y1="338.7" x2="216.3" y2="344.9" stroke="#9aa0cc" stroke-opacity="0.34" stroke-width="1.2" stroke-linecap="round"/>
<line x1="128.8" y1="410.7" x2="136.3" y2="414.7" stroke="#f4f6ff" stroke-opacity="0.63" stroke-width="1.6" stroke-linecap="round"/>
<line x1="168.0" y1="307.2" x2="179.1" y2="312.3" stroke="#f4f6ff" stroke-opacity="0.69" stroke-width="2.2" stroke-linecap="round"/>
<line x1="143.4" y1="295.8" x2="148.9" y2="299.6" stroke="#f4f6ff" stroke-opacity="0.53" stroke-width="1.9" stroke-linecap="round"/>
<line x1="162.8" y1="418.8" x2="169.5" y2="423.3" stroke="#f4f6ff" stroke-opacity="0.67" stroke-width="2.9" stroke-linecap="round"/>
<line x1="153.4" y1="295.6" x2="163.3" y2="301.4" stroke="#9aa0cc" stroke-opacity="0.38" stroke-width="1.9" stroke-linecap="round"/>
<line x1="195.9" y1="417.8" x2="204.6" y2="423.5" stroke="#9aa0cc" stroke-opacity="0.35" stroke-width="1.0" stroke-linecap="round"/>
<line x1="135.0" y1="305.0" x2="141.1" y2="308.0" stroke="#9aa0cc" stroke-opacity="0.39" stroke-width="1.5" stroke-linecap="round"/>
<line x1="116.6" y1="315.7" x2="131.3" y2="321.1" stroke="#f4f6ff" stroke-opacity="0.82" stroke-width="2.9" stroke-linecap="round"/>
<line x1="182.8" y1="339.2" x2="194.5" y2="346.9" stroke="#9aa0cc" stroke-opacity="0.60" stroke-width="1.1" stroke-linecap="round"/>
<line x1="201.9" y1="340.8" x2="213.8" y2="346.1" stroke="#9aa0cc" stroke-opacity="0.31" stroke-width="1.6" stroke-linecap="round"/>
<line x1="139.1" y1="339.2" x2="147.5" y2="344.1" stroke="#9aa0cc" stroke-opacity="0.41" stroke-width="1.6" stroke-linecap="round"/>
<line x1="147.8" y1="324.2" x2="161.4" y2="330.6" stroke="#f4f6ff" stroke-opacity="0.63" stroke-width="2.8" stroke-linecap="round"/>
<line x1="137.0" y1="385.0" x2="146.8" y2="390.9" stroke="#f4f6ff" stroke-opacity="0.54" stroke-width="1.8" stroke-linecap="round"/>
<line x1="151.6" y1="345.7" x2="157.0" y2="348.6" stroke="#f4f6ff" stroke-opacity="0.63" stroke-width="2.5" stroke-linecap="round"/>
<line x1="201.3" y1="314.5" x2="214.7" y2="320.8" stroke="#9aa0cc" stroke-opacity="0.33" stroke-width="2.0" stroke-linecap="round"/>
<line x1="157.7" y1="414.7" x2="165.1" y2="418.4" stroke="#9aa0cc" stroke-opacity="0.35" stroke-width="1.3" stroke-linecap="round"/>
<line x1="179.2" y1="412.8" x2="187.7" y2="416.4" stroke="#f4f6ff" stroke-opacity="0.90" stroke-width="1.8" stroke-linecap="round"/>
<line x1="174.0" y1="337.8" x2="185.4" y2="342.8" stroke="#9aa0cc" stroke-opacity="0.57" stroke-width="1.9" stroke-linecap="round"/>
<line x1="173.7" y1="354.7" x2="184.6" y2="359.0" stroke="#9aa0cc" stroke-opacity="0.51" stroke-width="1.5" stroke-linecap="round"/>
<line x1="177.9" y1="343.7" x2="186.9" y2="347.7" stroke="#9aa0cc" stroke-opacity="0.47" stroke-width="1.5" stroke-linecap="round"/>
<line x1="121.3" y1="370.2" x2="130.4" y2="375.4" stroke="#f4f6ff" stroke-opacity="0.87" stroke-width="1.8" stroke-linecap="round"/>
<line x1="158.8" y1="417.6" x2="170.9" y2="423.3" stroke="#9aa0cc" stroke-opacity="0.60" stroke-width="1.4" stroke-linecap="round"/>
<line x1="193.4" y1="303.8" x2="207.5" y2="311.2" stroke="#f4f6ff" stroke-opacity="0.84" stroke-width="2.6" stroke-linecap="round"/>
<line x1="200.6" y1="395.8" x2="212.9" y2="402.4" stroke="#9aa0cc" stroke-opacity="0.32" stroke-width="1.9" stroke-linecap="round"/>
<line x1="180.3" y1="320.5" x2="192.8" y2="326.9" stroke="#f4f6ff" stroke-opacity="0.85" stroke-width="1.9" stroke-linecap="round"/>
<line x1="145.0" y1="373.3" x2="150.9" y2="376.6" stroke="#9aa0cc" stroke-opacity="0.45" stroke-width="1.2" stroke-linecap="round"/>
<line x1="188.4" y1="399.2" x2="200.4" y2="405.8" stroke="#9aa0cc" stroke-opacity="0.54" stroke-width="1.2" stroke-linecap="round"/>
<line x1="152.8" y1="302.7" x2="158.5" y2="305.5" stroke="#9aa0cc" stroke-opacity="0.55" stroke-width="1.1" stroke-linecap="round"/>
<line x1="132.9" y1="338.1" x2="145.5" y2="345.3" stroke="#9aa0cc" stroke-opacity="0.32" stroke-width="2.0" stroke-linecap="round"/>
<line x1="135.2" y1="369.2" x2="147.7" y2="376.9" stroke="#f4f6ff" stroke-opacity="0.77" stroke-width="2.3" stroke-linecap="round"/>
<line x1="120.4" y1="333.0" x2="128.3" y2="337.6" stroke="#f4f6ff" stroke-opacity="0.74" stroke-width="2.7" stroke-linecap="round"/>
<line x1="133.4" y1="304.7" x2="144.9" y2="310.7" stroke="#f4f6ff" stroke-opacity="0.55" stroke-width="3.1" stroke-linecap="round"/>
<line x1="174.3" y1="335.3" x2="180.7" y2="340.0" stroke="#9aa0cc" stroke-opacity="0.52" stroke-width="1.4" stroke-linecap="round"/>
<line x1="147.5" y1="342.4" x2="153.9" y2="346.1" stroke="#f4f6ff" stroke-opacity="0.83" stroke-width="2.3" stroke-linecap="round"/>
<line x1="156.8" y1="353.7" x2="170.7" y2="360.4" stroke="#9aa0cc" stroke-opacity="0.37" stroke-width="1.6" stroke-linecap="round"/>
<line x1="144.8" y1="402.3" x2="152.1" y2="407.2" stroke="#9aa0cc" stroke-opacity="0.44" stroke-width="1.9" stroke-linecap="round"/>
<line x1="152.3" y1="385.2" x2="163.0" y2="390.7" stroke="#f4f6ff" stroke-opacity="0.67" stroke-width="2.1" stroke-linecap="round"/>
<line x1="158.5" y1="413.2" x2="166.2" y2="417.8" stroke="#9aa0cc" stroke-opacity="0.37" stroke-width="1.4" stroke-linecap="round"/>
<line x1="131.0" y1="405.8" x2="138.6" y2="409.7" stroke="#f4f6ff" stroke-opacity="0.83" stroke-width="3.0" stroke-linecap="round"/>
<line x1="172.9" y1="360.2" x2="178.6" y2="364.2" stroke="#f4f6ff" stroke-opacity="0.65" stroke-width="2.2" stroke-linecap="round"/>
<line x1="183.7" y1="375.6" x2="191.5" y2="380.9" stroke="#9aa0cc" stroke-opacity="0.31" stroke-width="1.6" stroke-linecap="round"/>
<line x1="160.1" y1="335.9" x2="169.7" y2="340.4" stroke="#9aa0cc" stroke-opacity="0.48" stroke-width="2.0" stroke-linecap="round"/>
<line x1="206.0" y1="417.7" x2="214.4" y2="423.2" stroke="#9aa0cc" stroke-opacity="0.51" stroke-width="2.0" stroke-linecap="round"/>
<line x1="124.6" y1="348.7" x2="133.3" y2="353.8" stroke="#f4f6ff" stroke-opacity="0.90" stroke-width="1.9" stroke-linecap="round"/>
<line x1="151.8" y1="307.0" x2="160.3" y2="312.3" stroke="#f4f6ff" stroke-opacity="0.57" stroke-width="2.6" stroke-linecap="round"/>
<line x1="175.1" y1="385.4" x2="182.2" y2="390.1" stroke="#9aa0cc" stroke-opacity="0.53" stroke-width="1.1" stroke-linecap="round"/>
<line x1="158.9" y1="288.9" x2="170.8" y2="297.3" stroke="#9aa0cc" stroke-opacity="0.31" stroke-width="1.4" stroke-linecap="round"/>
<line x1="167.9" y1="358.7" x2="173.8" y2="362.5" stroke="#f4f6ff" stroke-opacity="0.70" stroke-width="1.8" stroke-linecap="round"/>
<line x1="170.7" y1="306.3" x2="176.7" y2="309.5" stroke="#f4f6ff" stroke-opacity="0.81" stroke-width="2.0" stroke-linecap="round"/>
<line x1="156.3" y1="296.2" x2="163.6" y2="300.0" stroke="#f4f6ff" stroke-opacity="0.68" stroke-width="3.0" stroke-linecap="round"/>
<line x1="129.2" y1="399.7" x2="135.4" y2="404.0" stroke="#f4f6ff" stroke-opacity="0.66" stroke-width="2.6" stroke-linecap="round"/>
<line x1="195.4" y1="414.9" x2="204.9" y2="418.4" stroke="#f4f6ff" stroke-opacity="0.83" stroke-width="2.8" stroke-linecap="round"/>
<line x1="181.3" y1="309.4" x2="191.9" y2="313.4" stroke="#f4f6ff" stroke-opacity="0.62" stroke-width="3.1" stroke-linecap="round"/>
<line x1="177.5" y1="400.1" x2="183.3" y2="403.0" stroke="#f4f6ff" stroke-opacity="0.60" stroke-width="1.8" stroke-linecap="round"/>
<line x1="200.4" y1="331.1" x2="209.7" y2="336.6" stroke="#9aa0cc" stroke-opacity="0.58" stroke-width="1.6" stroke-linecap="round"/>
<line x1="163.2" y1="406.8" x2="172.2" y2="410.9" stroke="#9aa0cc" stroke-opacity="0.38" stroke-width="1.4" stroke-linecap="round"/>
<line x1="157.1" y1="351.0" x2="165.6" y2="355.4" stroke="#f4f6ff" stroke-opacity="0.52" stroke-width="2.9" stroke-linecap="round"/>
<line x1="123.4" y1="357.3" x2="133.7" y2="362.4" stroke="#f4f6ff" stroke-opacity="0.54" stroke-width="2.2" stroke-linecap="round"/>
<line x1="147.6" y1="351.9" x2="154.6" y2="356.3" stroke="#f4f6ff" stroke-opacity="0.50" stroke-width="2.3" stroke-linecap="round"/>
<line x1="204.4" y1="288.5" x2="214.2" y2="295.4" stroke="#f4f6ff" stroke-opacity="0.74" stroke-width="2.2" stroke-linecap="round"/>
<line x1="144.5" y1="367.9" x2="155.3" y2="373.0" stroke="#f4f6ff" stroke-opacity="0.71" stroke-width="2.8" stroke-linecap="round"/>
<line x1="123.9" y1="301.4" x2="131.6" y2="304.9" stroke="#9aa0cc" stroke-opacity="0.43" stroke-width="1.9" stroke-linecap="round"/>
<line x1="153.0" y1="325.9" x2="164.9" y2="330.6" stroke="#9aa0cc" stroke-opacity="0.55" stroke-width="1.3" stroke-linecap="round"/>
<line x1="145.3" y1="394.3" x2="157.3" y2="401.3" stroke="#f4f6ff" stroke-opacity="0.81" stroke-width="1.7" stroke-linecap="round"/>
<line x1="172.2" y1="359.1" x2="185.4" y2="366.8" stroke="#f4f6ff" stroke-opacity="0.87" stroke-width="2.8" stroke-linecap="round"/>
<line x1="168.8" y1="288.7" x2="180.8" y2="294.7" stroke="#9aa0cc" stroke-opacity="0.60" stroke-width="1.9" stroke-linecap="round"/>
<line x1="125.3" y1="390.1" x2="134.1" y2="395.7" stroke="#f4f6ff" stroke-opacity="0.68" stroke-width="2.3" stroke-linecap="round"/>
<line x1="127.3" y1="330.3" x2="139.8" y2="335.1" stroke="#f4f6ff" stroke-opacity="0.83" stroke-width="2.7" stroke-linecap="round"/>
<line x1="168.7" y1="304.3" x2="175.2" y2="307.3" stroke="#9aa0cc" stroke-opacity="0.47" stroke-width="1.9" stroke-linecap="round"/>
<line x1="137.1" y1="342.0" x2="146.6" y2="348.2" stroke="#f4f6ff" stroke-opacity="0.85" stroke-width="2.4" stroke-linecap="round"/>
<line x1="121.6" y1="344.8" x2="130.0" y2="349.8" stroke="#9aa0cc" stroke-opacity="0.45" stroke-width="1.7" stroke-linecap="round"/>
<line x1="154.7" y1="390.7" x2="160.6" y2="394.4" stroke="#f4f6ff" stroke-opacity="0.73" stroke-width="1.9" stroke-linecap="round"/>
<line x1="149.8" y1="310.0" x2="158.1" y2="314.7" stroke="#f4f6ff" stroke-opacity="0.66" stroke-width="2.5" stroke-linecap="round"/>
<line x1="193.0" y1="335.0" x2="203.5" y2="340.5" stroke="#9aa0cc" stroke-opacity="0.40" stroke-width="1.7" stroke-linecap="round"/>
<line x1="138.1" y1="321.8" x2="149.7" y2="328.3" stroke="#f4f6ff" stroke-opacity="0.53" stroke-width="2.9" stroke-linecap="round"/>
<line x1="152.2" y1="381.9" x2="161.2" y2="387.0" stroke="#f4f6ff" stroke-opacity="0.89" stroke-width="3.1" stroke-linecap="round"/>
<line x1="160.2" y1="352.3" x2="167.2" y2="356.7" stroke="#f4f6ff" stroke-opacity="0.62" stroke-width="3.0" stroke-linecap="round"/>
<line x1="121.0" y1="379.3" x2="131.2" y2="384.9" stroke="#f4f6ff" stroke-opacity="0.56" stroke-width="3.1" stroke-linecap="round"/>
<line x1="188.3" y1="394.2" x2="194.2" y2="397.9" stroke="#f4f6ff" stroke-opacity="0.58" stroke-width="2.5" stroke-linecap="round"/>
<line x1="171.5" y1="303.4" x2="183.4" y2="310.1" stroke="#9aa0cc" stroke-opacity="0.58" stroke-width="1.7" stroke-linecap="round"/>
<line x1="149.5" y1="412.3" x2="161.5" y2="417.8" stroke="#9aa0cc" stroke-opacity="0.52" stroke-width="1.3" stroke-linecap="round"/>
<line x1="140.1" y1="291.3" x2="150.4" y2="296.0" stroke="#f4f6ff" stroke-opacity="0.60" stroke-width="1.8" stroke-linecap="round"/>
<line x1="162.3" y1="324.7" x2="170.3" y2="328.4" stroke="#f4f6ff" stroke-opacity="0.85" stroke-width="1.9" stroke-linecap="round"/>
<line x1="194.5" y1="399.6" x2="205.1" y2="405.4" stroke="#9aa0cc" stroke-opacity="0.46" stroke-width="1.7" stroke-linecap="round"/>
<line x1="201.1" y1="390.6" x2="209.1" y2="393.6" stroke="#9aa0cc" stroke-opacity="0.41" stroke-width="1.8" stroke-linecap="round"/>
<line x1="139.7" y1="347.5" x2="148.0" y2="352.6" stroke="#9aa0cc" stroke-opacity="0.45" stroke-width="1.6" stroke-linecap="round"/>
<line x1="146.9" y1="318.4" x2="161.3" y2="324.2" stroke="#9aa0cc" stroke-opacity="0.50" stroke-width="1.1" stroke-linecap="round"/>
<line x1="198.1" y1="302.1" x2="208.9" y2="306.5" stroke="#9aa0cc" stroke-opacity="0.39" stroke-width="1.9" stroke-linecap="round"/>
<line x1="125.4" y1="376.7" x2="131.6" y2="379.1" stroke="#f4f6ff" stroke-opacity="0.89" stroke-width="2.7" stroke-linecap="round"/>
<line x1="194.2" y1="391.3" x2="204.6" y2="395.4" stroke="#f4f6ff" stroke-opacity="0.57" stroke-width="2.4" stroke-linecap="round"/>
<line x1="151.2" y1="354.0" x2="158.0" y2="358.1" stroke="#f4f6ff" stroke-opacity="0.69" stroke-width="1.7" stroke-linecap="round"/>
<line x1="159.6" y1="359.9" x2="173.4" y2="367.5" stroke="#f4f6ff" stroke-opacity="0.62" stroke-width="2.1" stroke-linecap="round"/>
<line x1="179.3" y1="408.9" x2="192.1" y2="418.0" stroke="#9aa0cc" stroke-opacity="0.56" stroke-width="1.9" stroke-linecap="round"/>
<line x1="119.7" y1="351.8" x2="129.9" y2="357.9" stroke="#9aa0cc" stroke-opacity="0.48" stroke-width="1.9" stroke-linecap="round"/>
<line x1="123.4" y1="356.0" x2="138.0" y2="361.4" stroke="#f4f6ff" stroke-opacity="0.85" stroke-width="3.1" stroke-linecap="round"/>
<line x1="119.0" y1="291.5" x2="131.3" y2="298.9" stroke="#f4f6ff" stroke-opacity="0.73" stroke-width="2.8" stroke-linecap="round"/>
<line x1="192.3" y1="289.3" x2="197.9" y2="292.9" stroke="#9aa0cc" stroke-opacity="0.55" stroke-width="1.4" stroke-linecap="round"/>
<line x1="150.4" y1="334.6" x2="155.6" y2="337.9" stroke="#f4f6ff" stroke-opacity="0.73" stroke-width="2.4" stroke-linecap="round"/>
<line x1="148.1" y1="376.9" x2="157.8" y2="381.1" stroke="#9aa0cc" stroke-opacity="0.35" stroke-width="1.1" stroke-linecap="round"/>
<line x1="139.4" y1="350.5" x2="151.9" y2="356.4" stroke="#f4f6ff" stroke-opacity="0.76" stroke-width="2.0" stroke-linecap="round"/>
<line x1="162.9" y1="321.4" x2="176.5" y2="327.1" stroke="#f4f6ff" stroke-opacity="0.62" stroke-width="2.1" stroke-linecap="round"/>
<line x1="181.8" y1="375.6" x2="194.0" y2="382.2" stroke="#f4f6ff" stroke-opacity="0.81" stroke-width="2.0" stroke-linecap="round"/>
<line x1="135.3" y1="341.6" x2="149.6" y2="348.5" stroke="#f4f6ff" stroke-opacity="0.86" stroke-width="3.2" stroke-linecap="round"/>
<line x1="151.7" y1="304.9" x2="163.4" y2="312.4" stroke="#f4f6ff" stroke-opacity="0.82" stroke-width="2.2" stroke-linecap="round"/>
<line x1="142.7" y1="365.3" x2="154.6" y2="371.5" stroke="#9aa0cc" stroke-opacity="0.30" stroke-width="1.5" stroke-linecap="round"/>
<line x1="150.0" y1="296.6" x2="164.0" y2="302.4" stroke="#f4f6ff" stroke-opacity="0.85" stroke-width="3.1" stroke-linecap="round"/>
<line x1="199.1" y1="332.7" x2="213.3" y2="338.5" stroke="#9aa0cc" stroke-opacity="0.58" stroke-width="1.2" stroke-linecap="round"/>
<line x1="128.8" y1="375.6" x2="141.4" y2="383.3" stroke="#9aa0cc" stroke-opacity="0.44" stroke-width="1.4" stroke-linecap="round"/>
<line x1="126.6" y1="323.8" x2="140.9" y2="329.4" stroke="#f4f6ff" stroke-opacity="0.64" stroke-width="1.7" stroke-linecap="round"/>
<line x1="147.2" y1="313.1" x2="153.6" y2="316.6" stroke="#f4f6ff" stroke-opacity="0.73" stroke-width="2.8" stroke-linecap="round"/>
<line x1="166.9" y1="413.1" x2="173.2" y2="415.9" stroke="#f4f6ff" stroke-opacity="0.62" stroke-width="2.8" stroke-linecap="round"/>
<line x1="202.1" y1="355.1" x2="209.0" y2="358.3" stroke="#f4f6ff" stroke-opacity="0.62" stroke-width="2.9" stroke-linecap="round"/>
<line x1="204.8" y1="347.6" x2="214.9" y2="354.3" stroke="#f4f6ff" stroke-opacity="0.58" stroke-width="3.1" stroke-linecap="round"/>
<line x1="204.2" y1="291.2" x2="216.4" y2="297.2" stroke="#f4f6ff" stroke-opacity="0.57" stroke-width="1.9" stroke-linecap="round"/>
<line x1="185.9" y1="317.4" x2="191.6" y2="319.8" stroke="#9aa0cc" stroke-opacity="0.45" stroke-width="1.7" stroke-linecap="round"/>
</g>
<g filter="url(#bl2)">
<g stroke="#927498" fill="#927498" stroke-linecap="round" opacity="0.9">
<line x1="141" y1="352" x2="146" y2="382" stroke-width="13.2"/>
<line x1="152" y1="319" x2="152.5" y2="356" stroke-width="13.7"/>
<line x1="166" y1="312" x2="166" y2="356" stroke-width="14.7"/>
<line x1="182.5" y1="325" x2="184" y2="358" stroke-width="14.2"/>
<line x1="194.5" y1="352" x2="196" y2="372" stroke-width="10.2"/>
<path d="M147 418 L141 395 Q137 372 140 356 Q143 347 152 346 L188 346 Q197 350 199.5 364 L201 392 L201 418 Z" stroke-width="2.2" stroke-linejoin="round"/>
</g>
<g stroke="url(#pg2)" fill="url(#pg2)" stroke-linecap="round">
<line x1="141" y1="352" x2="146" y2="382" stroke-width="10"/>
<line x1="152" y1="319" x2="152.5" y2="356" stroke-width="10.5"/>
<line x1="166" y1="312" x2="166" y2="356" stroke-width="11.5"/>
<line x1="182.5" y1="325" x2="184" y2="358" stroke-width="11"/>
<line x1="194.5" y1="352" x2="196" y2="372" stroke-width="7"/>
<path d="M147 418 L141 395 Q137 372 140 356 Q143 347 152 346 L188 346 Q197 350 199.5 364 L201 392 L201 418 Z" stroke-width="0" />
</g>
</g>
<g filter="url(#bl2)" stroke="#d8bcd2" stroke-linecap="round" opacity="0.75">
<line x1="141.5" y1="357.0" x2="144.0" y2="370.0" stroke-width="4.4"/>
<line x1="152.1" y1="324.7" x2="152.3" y2="341.2" stroke-width="4.6"/>
<line x1="166.0" y1="318.4" x2="166.0" y2="338.4" stroke-width="5.0"/>
<line x1="182.7" y1="330.3" x2="183.4" y2="344.8" stroke-width="4.8"/>
<line x1="194.7" y1="356.0" x2="195.4" y2="364.0" stroke-width="3.2"/>
</g>
<g filter="url(#blM)">
<ellipse cx="190.7" cy="397.0" rx="2.9" ry="4.0" fill="#dcbcd0" opacity="0.26"/>
<ellipse cx="166.6" cy="323.4" rx="2.7" ry="3.9" fill="#b08c8c" opacity="0.28"/>
<ellipse cx="183.3" cy="386.0" rx="4.6" ry="3.3" fill="#b08c8c" opacity="0.30"/>
<ellipse cx="143.9" cy="377.3" rx="4.1" ry="4.2" fill="#e4c6d8" opacity="0.35"/>
<ellipse cx="191.6" cy="415.2" rx="3.6" ry="3.4" fill="#dcbcd0" opacity="0.30"/>
<ellipse cx="181.6" cy="323.5" rx="3.0" ry="3.7" fill="#a88296" opacity="0.25"/>
<ellipse cx="196.4" cy="382.4" rx="3.3" ry="4.8" fill="#e4c6d8" opacity="0.25"/>
<ellipse cx="187.0" cy="346.9" rx="2.7" ry="4.0" fill="#9a7898" opacity="0.32"/>
<ellipse cx="196.8" cy="352.6" rx="3.8" ry="3.7" fill="#a88296" opacity="0.32"/>
<ellipse cx="183.7" cy="348.3" rx="3.6" ry="4.3" fill="#e8d0dc" opacity="0.39"/>
<ellipse cx="170.5" cy="329.6" rx="3.6" ry="4.8" fill="#9a7898" opacity="0.24"/>
<ellipse cx="197.5" cy="372.2" rx="3.7" ry="4.3" fill="#dcbcd0" opacity="0.38"/>
<ellipse cx="167.2" cy="374.9" rx="4.9" ry="4.8" fill="#dcbcd0" opacity="0.38"/>
<ellipse cx="157.7" cy="371.2" rx="4.3" ry="2.9" fill="#dcbcd0" opacity="0.45"/>
<ellipse cx="193.4" cy="366.1" rx="4.0" ry="3.9" fill="#9a7898" opacity="0.23"/>
<ellipse cx="181.9" cy="343.8" rx="2.7" ry="3.0" fill="#a88296" opacity="0.33"/>
<ellipse cx="161.3" cy="392.3" rx="3.1" ry="3.4" fill="#a88296" opacity="0.21"/>
<ellipse cx="165.8" cy="385.4" rx="2.8" ry="4.6" fill="#e4c6d8" opacity="0.39"/>
<ellipse cx="182.8" cy="393.4" rx="3.6" ry="4.4" fill="#e4c6d8" opacity="0.43"/>
<ellipse cx="163.3" cy="332.6" rx="3.2" ry="3.4" fill="#9a7898" opacity="0.32"/>
<ellipse cx="167.7" cy="332.5" rx="4.8" ry="2.6" fill="#dcbcd0" opacity="0.34"/>
<ellipse cx="178.4" cy="363.2" rx="2.6" ry="4.9" fill="#e4c6d8" opacity="0.32"/>
<ellipse cx="186.4" cy="388.6" rx="2.7" ry="4.3" fill="#dcbcd0" opacity="0.32"/>
<ellipse cx="164.7" cy="358.4" rx="4.9" ry="3.0" fill="#e4c6d8" opacity="0.32"/>
<ellipse cx="183.9" cy="321.7" rx="3.5" ry="3.1" fill="#b08c8c" opacity="0.29"/>
<ellipse cx="145.5" cy="366.6" rx="4.4" ry="5.0" fill="#a88296" opacity="0.30"/>
<ellipse cx="188.1" cy="400.9" rx="5.0" ry="3.9" fill="#9a7898" opacity="0.26"/>
<ellipse cx="180.3" cy="384.5" rx="4.2" ry="4.9" fill="#b08c8c" opacity="0.26"/>
<ellipse cx="141.0" cy="373.8" rx="3.7" ry="2.6" fill="#e4c6d8" opacity="0.25"/>
<ellipse cx="179.4" cy="363.8" rx="3.9" ry="4.5" fill="#b08c8c" opacity="0.20"/>
<ellipse cx="145.8" cy="366.7" rx="2.7" ry="3.9" fill="#a88296" opacity="0.21"/>
<ellipse cx="162.6" cy="413.1" rx="4.8" ry="4.4" fill="#9a7898" opacity="0.21"/>
<ellipse cx="181.4" cy="386.1" rx="3.1" ry="4.5" fill="#a88296" opacity="0.24"/>
<ellipse cx="179.7" cy="363.2" rx="3.1" ry="4.5" fill="#a88296" opacity="0.29"/>
<ellipse cx="186.8" cy="417.4" rx="3.8" ry="4.0" fill="#b08c8c" opacity="0.25"/>
<ellipse cx="179.0" cy="342.7" rx="2.6" ry="4.8" fill="#9a7898" opacity="0.34"/>
<ellipse cx="138.5" cy="349.5" rx="4.0" ry="3.9" fill="#e8d0dc" opacity="0.33"/>
<ellipse cx="177.5" cy="356.7" rx="2.6" ry="4.4" fill="#e4c6d8" opacity="0.31"/>
<ellipse cx="166.4" cy="402.6" rx="3.7" ry="4.6" fill="#b08c8c" opacity="0.32"/>
<ellipse cx="157.3" cy="400.9" rx="2.9" ry="3.5" fill="#e4c6d8" opacity="0.41"/>
<ellipse cx="178.7" cy="322.9" rx="4.9" ry="3.8" fill="#e4c6d8" opacity="0.35"/>
<ellipse cx="189.3" cy="357.6" rx="4.0" ry="4.7" fill="#dcbcd0" opacity="0.42"/>
<ellipse cx="179.3" cy="394.1" rx="4.0" ry="4.0" fill="#e4c6d8" opacity="0.26"/>
<ellipse cx="168.0" cy="392.3" rx="4.6" ry="4.4" fill="#9a7898" opacity="0.21"/>
<ellipse cx="147.3" cy="413.9" rx="4.3" ry="3.6" fill="#e4c6d8" opacity="0.42"/>
</g>
<path filter="url(#bl3)" fill="#a88aa8" opacity="0.4" d="M142 392 L200 392 L202 418 L142 418 Z"/>
<ellipse filter="url(#bl3)" cx="140" cy="402" rx="5" ry="14" fill="#8a84bc" opacity="0.5"/>
<path filter="url(#bl1)" fill="none" stroke="#dcc6dc" stroke-width="0.9" opacity="0.8" stroke-width="1.2" d="M146 392 Q156 376 174 374 Q192 374 198 384"/>
</g><text x="7" y="16.6" font-size="11.2" font-weight="bold" fill="#111">A</text>
<text x="25" y="256.6" font-size="11.2" font-weight="bold" fill="#111">B</text>
<path d="M48.5 37.5 V207.9 H269" fill="none" stroke="#222" stroke-width="1.3"/>
<line x1="45.5" y1="208.0" x2="48.5" y2="208.0" stroke="#222" stroke-width="1"/>
<text x="42.2" y="211.0" font-size="8.3" text-anchor="end" fill="#1e1e1e" stroke="#1e1e1e" stroke-width="0.22">0</text>
<line x1="45.5" y1="180.0" x2="48.5" y2="180.0" stroke="#222" stroke-width="1"/>
<text x="42.2" y="183.0" font-size="8.3" text-anchor="end" fill="#1e1e1e" stroke="#1e1e1e" stroke-width="0.22">5</text>
<line x1="45.5" y1="152.0" x2="48.5" y2="152.0" stroke="#222" stroke-width="1"/>
<text x="42.2" y="155.0" font-size="8.3" text-anchor="end" fill="#1e1e1e" stroke="#1e1e1e" stroke-width="0.22">10</text>
<line x1="45.5" y1="124.0" x2="48.5" y2="124.0" stroke="#222" stroke-width="1"/>
<text x="42.2" y="127.0" font-size="8.3" text-anchor="end" fill="#1e1e1e" stroke="#1e1e1e" stroke-width="0.22">15</text>
<line x1="45.5" y1="96.0" x2="48.5" y2="96.0" stroke="#222" stroke-width="1"/>
<text x="42.2" y="99.0" font-size="8.3" text-anchor="end" fill="#1e1e1e" stroke="#1e1e1e" stroke-width="0.22">20</text>
<line x1="45.5" y1="68.0" x2="48.5" y2="68.0" stroke="#222" stroke-width="1"/>
<text x="42.2" y="71.0" font-size="8.3" text-anchor="end" fill="#1e1e1e" stroke="#1e1e1e" stroke-width="0.22">25</text>
<line x1="45.5" y1="40.0" x2="48.5" y2="40.0" stroke="#222" stroke-width="1"/>
<text x="42.2" y="43.0" font-size="8.3" text-anchor="end" fill="#1e1e1e" stroke="#1e1e1e" stroke-width="0.22">30</text>
<line x1="58" y1="208" x2="58" y2="210.6" stroke="#222" stroke-width="1"/>
<text x="58" y="221.3" font-size="8.3" text-anchor="middle" fill="#1e1e1e" stroke="#1e1e1e" stroke-width="0.22">5</text>
<line x1="78" y1="208" x2="78" y2="210.6" stroke="#222" stroke-width="1"/>
<text x="78" y="221.3" font-size="8.3" text-anchor="middle" fill="#1e1e1e" stroke="#1e1e1e" stroke-width="0.22">6</text>
<line x1="98" y1="208" x2="98" y2="210.6" stroke="#222" stroke-width="1"/>
<text x="98" y="221.3" font-size="8.3" text-anchor="middle" fill="#1e1e1e" stroke="#1e1e1e" stroke-width="0.22">7</text>
<line x1="118" y1="208" x2="118" y2="210.6" stroke="#222" stroke-width="1"/>
<text x="118" y="221.3" font-size="8.3" text-anchor="middle" fill="#1e1e1e" stroke="#1e1e1e" stroke-width="0.22">8</text>
<line x1="138" y1="208" x2="138" y2="210.6" stroke="#222" stroke-width="1"/>
<text x="138" y="221.3" font-size="8.3" text-anchor="middle" fill="#1e1e1e" stroke="#1e1e1e" stroke-width="0.22">9</text>
<line x1="158" y1="208" x2="158" y2="210.6" stroke="#222" stroke-width="1"/>
<text x="158" y="221.3" font-size="8.3" text-anchor="middle" fill="#1e1e1e" stroke="#1e1e1e" stroke-width="0.22">10</text>
<line x1="178" y1="208" x2="178" y2="210.6" stroke="#222" stroke-width="1"/>
<text x="178" y="221.3" font-size="8.3" text-anchor="middle" fill="#1e1e1e" stroke="#1e1e1e" stroke-width="0.22">11</text>
<line x1="198" y1="208" x2="198" y2="210.6" stroke="#222" stroke-width="1"/>
<text x="198" y="221.3" font-size="8.3" text-anchor="middle" fill="#1e1e1e" stroke="#1e1e1e" stroke-width="0.22">12</text>
<line x1="218" y1="208" x2="218" y2="210.6" stroke="#222" stroke-width="1"/>
<text x="218" y="221.3" font-size="8.3" text-anchor="middle" fill="#1e1e1e" stroke="#1e1e1e" stroke-width="0.22">13</text>
<line x1="238" y1="208" x2="238" y2="210.6" stroke="#222" stroke-width="1"/>
<text x="238" y="221.3" font-size="8.3" text-anchor="middle" fill="#1e1e1e" stroke="#1e1e1e" stroke-width="0.22">14</text>
<line x1="258" y1="208" x2="258" y2="210.6" stroke="#222" stroke-width="1"/>
<text x="258" y="221.3" font-size="8.3" text-anchor="middle" fill="#1e1e1e" stroke="#1e1e1e" stroke-width="0.22">15</text>
<text x="158.6" y="234.5" font-size="8.6" font-weight="bold" text-anchor="middle" fill="#1e1e1e" textLength="19.5" lengthAdjust="spacingAndGlyphs">Weeks</text>
<text x="158.4" y="31.8" font-size="10" text-anchor="middle" fill="#1e1e1e" stroke="#1e1e1e" stroke-width="0.22" textLength="19.5" lengthAdjust="spacingAndGlyphs">Male</text>
<text transform="translate(27.400000000000002,122.7) rotate(-90)" x="0" y="0" font-size="8.4" font-weight="bold" text-anchor="middle" fill="#1e1e1e" textLength="48" lengthAdjust="spacingAndGlyphs">Body weight (g)</text>
<path d="M58 107.5984536338314 V112.4015463661686 M56.4 107.5984536338314 H59.6 M56.4 112.4015463661686 H59.6" stroke="#8fb4e0" stroke-width="0.9" fill="none"/>
<circle cx="58.8" cy="117.6" r="0.85" fill="#1a3468"/>
<circle cx="58.0" cy="104.6" r="0.85" fill="#1a3468"/>
<circle cx="58.5" cy="108.9" r="0.85" fill="#1a3468"/>
<circle cx="56.8" cy="116.4" r="0.85" fill="#1a3468"/>
<circle cx="59.0" cy="99.6" r="0.85" fill="#1a3468"/>
<circle cx="58.8" cy="108.5" r="0.85" fill="#1a3468"/>
<circle cx="57.8" cy="99.0" r="0.85" fill="#1a3468"/>
<circle cx="57.2" cy="114.9" r="0.85" fill="#1a3468"/>
<path d="M58 115.38209395666911 V122.61790604333089 M56.4 115.38209395666911 H59.6 M56.4 122.61790604333089 H59.6" stroke="#f0a0b0" stroke-width="0.9" fill="none"/>
<circle cx="56.6" cy="127.8" r="0.85" fill="#a00c28"/>
<circle cx="58.1" cy="108.6" r="0.85" fill="#a00c28"/>
<circle cx="57.6" cy="128.7" r="0.85" fill="#a00c28"/>
<circle cx="57.8" cy="112.8" r="0.85" fill="#a00c28"/>
<circle cx="57.2" cy="108.6" r="0.85" fill="#a00c28"/>
<circle cx="58.0" cy="117.6" r="0.85" fill="#a00c28"/>
<circle cx="57.2" cy="113.1" r="0.85" fill="#a00c28"/>
<circle cx="57.9" cy="112.8" r="0.85" fill="#a00c28"/>
<path d="M78 100.66532757811427 V105.93467242188572 M76.4 100.66532757811427 H79.6 M76.4 105.93467242188572 H79.6" stroke="#8fb4e0" stroke-width="0.9" fill="none"/>
<circle cx="79.0" cy="92.8" r="0.85" fill="#1a3468"/>
<circle cx="78.4" cy="104.5" r="0.85" fill="#1a3468"/>
<circle cx="79.5" cy="96.4" r="0.85" fill="#1a3468"/>
<circle cx="76.9" cy="111.2" r="0.85" fill="#1a3468"/>
<circle cx="78.7" cy="99.6" r="0.85" fill="#1a3468"/>
<circle cx="79.3" cy="107.9" r="0.85" fill="#1a3468"/>
<circle cx="79.0" cy="101.6" r="0.85" fill="#1a3468"/>
<circle cx="77.4" cy="107.0" r="0.85" fill="#1a3468"/>
<path d="M78 107.51862909078466 V113.68137090921533 M76.4 107.51862909078466 H79.6 M76.4 113.68137090921533 H79.6" stroke="#f0a0b0" stroke-width="0.9" fill="none"/>
<circle cx="79.0" cy="119.0" r="0.85" fill="#a00c28"/>
<circle cx="78.3" cy="110.7" r="0.85" fill="#a00c28"/>
<circle cx="77.2" cy="100.4" r="0.85" fill="#a00c28"/>
<circle cx="77.7" cy="117.1" r="0.85" fill="#a00c28"/>
<circle cx="78.1" cy="103.4" r="0.85" fill="#a00c28"/>
<circle cx="78.5" cy="115.1" r="0.85" fill="#a00c28"/>
<circle cx="77.8" cy="107.8" r="0.85" fill="#a00c28"/>
<circle cx="78.8" cy="110.8" r="0.85" fill="#a00c28"/>
<path d="M98 90.71859237358028 V96.68140762641973 M96.4 90.71859237358028 H99.6 M96.4 96.68140762641973 H99.6" stroke="#8fb4e0" stroke-width="0.9" fill="none"/>
<circle cx="98.0" cy="91.4" r="0.85" fill="#1a3468"/>
<circle cx="96.6" cy="83.4" r="0.85" fill="#1a3468"/>
<circle cx="99.4" cy="98.2" r="0.85" fill="#1a3468"/>
<circle cx="97.7" cy="95.8" r="0.85" fill="#1a3468"/>
<circle cx="98.0" cy="86.4" r="0.85" fill="#1a3468"/>
<circle cx="98.8" cy="104.3" r="0.85" fill="#1a3468"/>
<circle cx="99.1" cy="94.6" r="0.85" fill="#1a3468"/>
<circle cx="98.0" cy="87.8" r="0.85" fill="#1a3468"/>
<path d="M98 96.7712989175976 V104.0287010824024 M96.4 96.7712989175976 H99.6 M96.4 104.0287010824024 H99.6" stroke="#f0a0b0" stroke-width="0.9" fill="none"/>
<circle cx="97.9" cy="102.1" r="0.85" fill="#a00c28"/>
<circle cx="98.1" cy="95.3" r="0.85" fill="#a00c28"/>
<circle cx="96.5" cy="110.5" r="0.85" fill="#a00c28"/>
<circle cx="99.0" cy="106.6" r="0.85" fill="#a00c28"/>
<circle cx="98.7" cy="108.9" r="0.85" fill="#a00c28"/>
<circle cx="98.1" cy="107.2" r="0.85" fill="#a00c28"/>
<circle cx="97.8" cy="101.7" r="0.85" fill="#a00c28"/>
<circle cx="99.1" cy="90.6" r="0.85" fill="#a00c28"/>
<path d="M118 81.44500099918542 V87.55499900081458 M116.4 81.44500099918542 H119.6 M116.4 87.55499900081458 H119.6" stroke="#8fb4e0" stroke-width="0.9" fill="none"/>
<circle cx="118.0" cy="77.9" r="0.85" fill="#1a3468"/>
<circle cx="117.6" cy="84.2" r="0.85" fill="#1a3468"/>
<circle cx="118.1" cy="81.1" r="0.85" fill="#1a3468"/>
<circle cx="118.3" cy="87.2" r="0.85" fill="#1a3468"/>
<circle cx="116.6" cy="83.6" r="0.85" fill="#1a3468"/>
<circle cx="117.0" cy="78.6" r="0.85" fill="#1a3468"/>
<circle cx="119.1" cy="86.4" r="0.85" fill="#1a3468"/>
<circle cx="118.9" cy="91.1" r="0.85" fill="#1a3468"/>
<path d="M118 89.27534394415896 V96.12465605584104 M116.4 89.27534394415896 H119.6 M116.4 96.12465605584104 H119.6" stroke="#f0a0b0" stroke-width="0.9" fill="none"/>
<circle cx="119.0" cy="87.3" r="0.85" fill="#a00c28"/>
<circle cx="116.7" cy="96.5" r="0.85" fill="#a00c28"/>
<circle cx="116.5" cy="82.1" r="0.85" fill="#a00c28"/>
<circle cx="117.2" cy="98.3" r="0.85" fill="#a00c28"/>
<circle cx="118.4" cy="84.1" r="0.85" fill="#a00c28"/>
<circle cx="116.7" cy="89.3" r="0.85" fill="#a00c28"/>
<circle cx="118.1" cy="85.2" r="0.85" fill="#a00c28"/>
<circle cx="117.3" cy="85.4" r="0.85" fill="#a00c28"/>
<path d="M138 79.53261510922209 V86.0673848907779 M136.4 79.53261510922209 H139.6 M136.4 86.0673848907779 H139.6" stroke="#8fb4e0" stroke-width="0.9" fill="none"/>
<circle cx="137.5" cy="81.8" r="0.85" fill="#1a3468"/>
<circle cx="136.6" cy="82.2" r="0.85" fill="#1a3468"/>
<circle cx="137.8" cy="80.3" r="0.85" fill="#1a3468"/>
<circle cx="136.8" cy="75.9" r="0.85" fill="#1a3468"/>
<circle cx="138.0" cy="91.6" r="0.85" fill="#1a3468"/>
<circle cx="138.3" cy="76.4" r="0.85" fill="#1a3468"/>
<circle cx="136.6" cy="89.8" r="0.85" fill="#1a3468"/>
<circle cx="136.9" cy="72.2" r="0.85" fill="#1a3468"/>
<path d="M138 85.72174679085731 V92.27825320914269 M136.4 85.72174679085731 H139.6 M136.4 92.27825320914269 H139.6" stroke="#f0a0b0" stroke-width="0.9" fill="none"/>
<circle cx="138.6" cy="81.5" r="0.85" fill="#a00c28"/>
<circle cx="138.1" cy="92.9" r="0.85" fill="#a00c28"/>
<circle cx="139.4" cy="82.9" r="0.85" fill="#a00c28"/>
<circle cx="138.0" cy="95.6" r="0.85" fill="#a00c28"/>
<circle cx="138.4" cy="82.9" r="0.85" fill="#a00c28"/>
<circle cx="138.2" cy="86.7" r="0.85" fill="#a00c28"/>
<circle cx="138.4" cy="85.1" r="0.85" fill="#a00c28"/>
<circle cx="137.4" cy="79.3" r="0.85" fill="#a00c28"/>
<path d="M158 73.94814503477366 V81.25185496522633 M156.4 73.94814503477366 H159.6 M156.4 81.25185496522633 H159.6" stroke="#8fb4e0" stroke-width="0.9" fill="none"/>
<circle cx="157.4" cy="85.9" r="0.85" fill="#1a3468"/>
<circle cx="157.4" cy="85.5" r="0.85" fill="#1a3468"/>
<circle cx="158.7" cy="87.3" r="0.85" fill="#1a3468"/>
<circle cx="157.3" cy="75.8" r="0.85" fill="#1a3468"/>
<circle cx="159.1" cy="66.8" r="0.85" fill="#1a3468"/>
<circle cx="159.0" cy="67.4" r="0.85" fill="#1a3468"/>
<circle cx="158.2" cy="87.8" r="0.85" fill="#1a3468"/>
<circle cx="159.1" cy="70.4" r="0.85" fill="#1a3468"/>
<path d="M158 80.63933714576046 V87.96066285423953 M156.4 80.63933714576046 H159.6 M156.4 87.96066285423953 H159.6" stroke="#f0a0b0" stroke-width="0.9" fill="none"/>
<circle cx="158.0" cy="88.8" r="0.85" fill="#a00c28"/>
<circle cx="157.5" cy="81.6" r="0.85" fill="#a00c28"/>
<circle cx="158.5" cy="77.8" r="0.85" fill="#a00c28"/>
<circle cx="157.1" cy="82.8" r="0.85" fill="#a00c28"/>
<circle cx="158.5" cy="75.6" r="0.85" fill="#a00c28"/>
<circle cx="158.0" cy="79.8" r="0.85" fill="#a00c28"/>
<circle cx="159.1" cy="80.5" r="0.85" fill="#a00c28"/>
<circle cx="156.6" cy="93.1" r="0.85" fill="#a00c28"/>
<path d="M178 71.49872048283886 V76.50127951716114 M176.4 71.49872048283886 H179.6 M176.4 76.50127951716114 H179.6" stroke="#8fb4e0" stroke-width="0.9" fill="none"/>
<circle cx="179.5" cy="70.2" r="0.85" fill="#1a3468"/>
<circle cx="177.5" cy="80.2" r="0.85" fill="#1a3468"/>
<circle cx="178.5" cy="67.7" r="0.85" fill="#1a3468"/>
<circle cx="179.3" cy="81.4" r="0.85" fill="#1a3468"/>
<circle cx="179.1" cy="70.6" r="0.85" fill="#1a3468"/>
<circle cx="178.0" cy="78.1" r="0.85" fill="#1a3468"/>
<circle cx="177.2" cy="84.7" r="0.85" fill="#1a3468"/>
<circle cx="176.8" cy="79.0" r="0.85" fill="#1a3468"/>
<path d="M178 78.04545878730842 V82.95454121269158 M176.4 78.04545878730842 H179.6 M176.4 82.95454121269158 H179.6" stroke="#f0a0b0" stroke-width="0.9" fill="none"/>
<circle cx="177.1" cy="89.5" r="0.85" fill="#a00c28"/>
<circle cx="178.3" cy="86.2" r="0.85" fill="#a00c28"/>
<circle cx="177.6" cy="88.0" r="0.85" fill="#a00c28"/>
<circle cx="177.4" cy="77.0" r="0.85" fill="#a00c28"/>
<circle cx="178.3" cy="88.6" r="0.85" fill="#a00c28"/>
<circle cx="179.2" cy="90.5" r="0.85" fill="#a00c28"/>
<circle cx="178.2" cy="72.5" r="0.85" fill="#a00c28"/>
<circle cx="176.6" cy="71.8" r="0.85" fill="#a00c28"/>
<path d="M198 68.09020987175148 V72.70979012824853 M196.4 68.09020987175148 H199.6 M196.4 72.70979012824853 H199.6" stroke="#8fb4e0" stroke-width="0.9" fill="none"/>
<circle cx="198.9" cy="78.5" r="0.85" fill="#1a3468"/>
<circle cx="197.5" cy="77.6" r="0.85" fill="#1a3468"/>
<circle cx="198.8" cy="72.9" r="0.85" fill="#1a3468"/>
<circle cx="198.2" cy="67.7" r="0.85" fill="#1a3468"/>
<circle cx="196.7" cy="64.3" r="0.85" fill="#1a3468"/>
<circle cx="199.2" cy="65.3" r="0.85" fill="#1a3468"/>
<circle cx="199.3" cy="71.8" r="0.85" fill="#1a3468"/>
<circle cx="197.3" cy="69.5" r="0.85" fill="#1a3468"/>
<path d="M198 75.11947800465951 V81.88052199534049 M196.4 75.11947800465951 H199.6 M196.4 81.88052199534049 H199.6" stroke="#f0a0b0" stroke-width="0.9" fill="none"/>
<circle cx="196.5" cy="85.7" r="0.85" fill="#a00c28"/>
<circle cx="196.8" cy="82.2" r="0.85" fill="#a00c28"/>
<circle cx="199.2" cy="70.0" r="0.85" fill="#a00c28"/>
<circle cx="197.2" cy="68.4" r="0.85" fill="#a00c28"/>
<circle cx="197.8" cy="89.2" r="0.85" fill="#a00c28"/>
<circle cx="197.0" cy="70.0" r="0.85" fill="#a00c28"/>
<circle cx="198.7" cy="72.8" r="0.85" fill="#a00c28"/>
<circle cx="199.2" cy="69.8" r="0.85" fill="#a00c28"/>
<path d="M218 66.63258409418367 V72.16741590581634 M216.4 66.63258409418367 H219.6 M216.4 72.16741590581634 H219.6" stroke="#8fb4e0" stroke-width="0.9" fill="none"/>
<circle cx="219.2" cy="79.7" r="0.85" fill="#1a3468"/>
<circle cx="217.3" cy="64.9" r="0.85" fill="#1a3468"/>
<circle cx="216.8" cy="68.9" r="0.85" fill="#1a3468"/>
<circle cx="216.6" cy="72.7" r="0.85" fill="#1a3468"/>
<circle cx="219.4" cy="58.6" r="0.85" fill="#1a3468"/>
<circle cx="218.3" cy="64.9" r="0.85" fill="#1a3468"/>
<circle cx="217.4" cy="68.3" r="0.85" fill="#1a3468"/>
<circle cx="219.2" cy="59.8" r="0.85" fill="#1a3468"/>
<path d="M218 72.84528008474283 V80.15471991525717 M216.4 72.84528008474283 H219.6 M216.4 80.15471991525717 H219.6" stroke="#f0a0b0" stroke-width="0.9" fill="none"/>
<circle cx="216.8" cy="86.8" r="0.85" fill="#a00c28"/>
<circle cx="218.4" cy="70.2" r="0.85" fill="#a00c28"/>
<circle cx="218.1" cy="87.1" r="0.85" fill="#a00c28"/>
<circle cx="218.5" cy="80.6" r="0.85" fill="#a00c28"/>
<circle cx="218.1" cy="71.2" r="0.85" fill="#a00c28"/>
<circle cx="217.2" cy="72.3" r="0.85" fill="#a00c28"/>
<circle cx="217.3" cy="67.3" r="0.85" fill="#a00c28"/>
<circle cx="217.8" cy="87.1" r="0.85" fill="#a00c28"/>
<path d="M238 62.221984198231 V68.57801580176901 M236.4 62.221984198231 H239.6 M236.4 68.57801580176901 H239.6" stroke="#8fb4e0" stroke-width="0.9" fill="none"/>
<circle cx="239.3" cy="68.6" r="0.85" fill="#1a3468"/>
<circle cx="237.4" cy="63.0" r="0.85" fill="#1a3468"/>
<circle cx="237.5" cy="61.6" r="0.85" fill="#1a3468"/>
<circle cx="239.2" cy="73.0" r="0.85" fill="#1a3468"/>
<circle cx="237.5" cy="61.1" r="0.85" fill="#1a3468"/>
<circle cx="238.2" cy="66.4" r="0.85" fill="#1a3468"/>
<circle cx="237.2" cy="67.5" r="0.85" fill="#1a3468"/>
<circle cx="237.2" cy="54.8" r="0.85" fill="#1a3468"/>
<path d="M238 69.39150869919288 V74.00849130080712 M236.4 69.39150869919288 H239.6 M236.4 74.00849130080712 H239.6" stroke="#f0a0b0" stroke-width="0.9" fill="none"/>
<circle cx="236.7" cy="72.8" r="0.85" fill="#a00c28"/>
<circle cx="238.4" cy="62.4" r="0.85" fill="#a00c28"/>
<circle cx="238.9" cy="67.1" r="0.85" fill="#a00c28"/>
<circle cx="239.1" cy="71.6" r="0.85" fill="#a00c28"/>
<circle cx="238.0" cy="64.1" r="0.85" fill="#a00c28"/>
<circle cx="236.7" cy="78.2" r="0.85" fill="#a00c28"/>
<circle cx="237.0" cy="81.6" r="0.85" fill="#a00c28"/>
<circle cx="239.5" cy="77.8" r="0.85" fill="#a00c28"/>
<path d="M258 61.167674782884724 V68.03232521711527 M256.4 61.167674782884724 H259.6 M256.4 68.03232521711527 H259.6" stroke="#8fb4e0" stroke-width="0.9" fill="none"/>
<circle cx="256.8" cy="60.6" r="0.85" fill="#1a3468"/>
<circle cx="259.3" cy="64.9" r="0.85" fill="#1a3468"/>
<circle cx="259.2" cy="60.1" r="0.85" fill="#1a3468"/>
<circle cx="259.2" cy="56.7" r="0.85" fill="#1a3468"/>
<circle cx="257.4" cy="54.3" r="0.85" fill="#1a3468"/>
<circle cx="258.9" cy="73.5" r="0.85" fill="#1a3468"/>
<circle cx="259.0" cy="73.6" r="0.85" fill="#1a3468"/>
<circle cx="258.6" cy="70.0" r="0.85" fill="#1a3468"/>
<path d="M258 68.33276770153351 V73.26723229846648 M256.4 68.33276770153351 H259.6 M256.4 73.26723229846648 H259.6" stroke="#f0a0b0" stroke-width="0.9" fill="none"/>
<circle cx="257.0" cy="69.3" r="0.85" fill="#a00c28"/>
<circle cx="258.5" cy="75.5" r="0.85" fill="#a00c28"/>
<circle cx="256.7" cy="65.4" r="0.85" fill="#a00c28"/>
<circle cx="258.9" cy="81.0" r="0.85" fill="#a00c28"/>
<circle cx="258.1" cy="71.9" r="0.85" fill="#a00c28"/>
<circle cx="257.9" cy="78.5" r="0.85" fill="#a00c28"/>
<circle cx="257.5" cy="68.5" r="0.85" fill="#a00c28"/>
<circle cx="256.6" cy="65.5" r="0.85" fill="#a00c28"/>
<polyline points="58.0,110.0 78.0,103.3 98.0,93.7 118.0,84.5 138.0,82.8 158.0,77.6 178.0,74.0 198.0,70.4 218.0,69.4 238.0,65.4 258.0,64.6" fill="none" stroke="#1c4a7c" stroke-width="2" stroke-linejoin="round"/>
<polyline points="58.0,119.0 78.0,110.6 98.0,100.4 118.0,92.7 138.0,89.0 158.0,84.3 178.0,80.5 198.0,78.5 218.0,76.5 238.0,71.7 258.0,70.8" fill="none" stroke="#c4132f" stroke-width="2" stroke-linejoin="round"/>
<text x="49.9" y="97.7" font-size="8.3" fill="#1e1e1e" stroke="#1e1e1e" stroke-width="0.22" textLength="20.8" lengthAdjust="spacingAndGlyphs">0.049</text>
<line x1="49.9" y1="98.60000000000001" x2="70.9" y2="98.60000000000001" stroke="#777" stroke-width="0.7"/>
<text x="68.7" y="84.8" font-size="8.3" fill="#1e1e1e" stroke="#1e1e1e" stroke-width="0.22" textLength="20.8" lengthAdjust="spacingAndGlyphs">0.042</text>
<line x1="68.7" y1="85.7" x2="89.7" y2="85.7" stroke="#777" stroke-width="0.7"/>
<text x="87.7" y="76.1" font-size="8.3" fill="#1e1e1e" stroke="#1e1e1e" stroke-width="0.22" textLength="20.8" lengthAdjust="spacingAndGlyphs">0.038</text>
<line x1="87.7" y1="77.0" x2="108.7" y2="77.0" stroke="#777" stroke-width="0.7"/>
<text x="107.8" y="64.6" font-size="8.3" fill="#1e1e1e" stroke="#1e1e1e" stroke-width="0.22" textLength="20.8" lengthAdjust="spacingAndGlyphs">0.060</text>
<line x1="107.8" y1="65.5" x2="128.8" y2="65.5" stroke="#777" stroke-width="0.7"/>
<text x="128.2" y="55.6" font-size="8.3" fill="#1e1e1e" stroke="#1e1e1e" stroke-width="0.22" textLength="20.8" lengthAdjust="spacingAndGlyphs">0.169</text>
<line x1="128.2" y1="56.5" x2="149.2" y2="56.5" stroke="#777" stroke-width="0.7"/>
<text x="147" y="65.1" font-size="8.3" fill="#1e1e1e" stroke="#1e1e1e" stroke-width="0.22" textLength="20.8" lengthAdjust="spacingAndGlyphs">0.077</text>
<line x1="147" y1="66.0" x2="168" y2="66.0" stroke="#777" stroke-width="0.7"/>
<text x="168" y="55.6" font-size="8.3" fill="#1e1e1e" stroke="#1e1e1e" stroke-width="0.22" textLength="20.8" lengthAdjust="spacingAndGlyphs">0.110</text>
<line x1="168" y1="56.5" x2="189" y2="56.5" stroke="#777" stroke-width="0.7"/>
<text x="188.3" y="45.9" font-size="8.3" fill="#1e1e1e" stroke="#1e1e1e" stroke-width="0.22" textLength="20.8" lengthAdjust="spacingAndGlyphs">0.085</text>
<line x1="188.3" y1="46.8" x2="209.3" y2="46.8" stroke="#777" stroke-width="0.7"/>
<text x="207.3" y="55.4" font-size="8.3" fill="#1e1e1e" stroke="#1e1e1e" stroke-width="0.22" textLength="20.8" lengthAdjust="spacingAndGlyphs">0.082</text>
<line x1="207.3" y1="56.3" x2="228.3" y2="56.3" stroke="#777" stroke-width="0.7"/>
<text x="227" y="46.6" font-size="8.3" fill="#1e1e1e" stroke="#1e1e1e" stroke-width="0.22" textLength="20.8" lengthAdjust="spacingAndGlyphs">0.123</text>
<line x1="227" y1="47.5" x2="248" y2="47.5" stroke="#777" stroke-width="0.7"/>
<text x="249.2" y="41.2" font-size="8.3" fill="#1e1e1e" stroke="#1e1e1e" stroke-width="0.22" textLength="20.8" lengthAdjust="spacingAndGlyphs">0.125</text>
<line x1="249.2" y1="42.1" x2="270.2" y2="42.1" stroke="#777" stroke-width="0.7"/>
<circle cx="196.9" cy="184.5" r="1.3" fill="#2b4a80"/>
<line x1="201.5" y1="184.5" x2="216.0" y2="184.5" stroke="#5f7fa8" stroke-width="1"/>
<text x="217.70000000000002" y="186.9" font-size="7.4" font-style="italic" fill="#1e1e1e" stroke="#1e1e1e" stroke-width="0.22"><tspan textLength="13.6" lengthAdjust="spacingAndGlyphs">Evi1</tspan></text>
<text x="231.9" y="185.0" font-size="6" fill="#1e1e1e" stroke="#1e1e1e" stroke-width="0.22" textLength="9.6" lengthAdjust="spacingAndGlyphs">+/+</text>
<circle cx="196.9" cy="194.5" r="1.3" fill="#8a1028"/>
<line x1="201.5" y1="194.5" x2="216.0" y2="194.5" stroke="#d83048" stroke-width="1"/>
<text x="217.70000000000002" y="196.9" font-size="7.4" font-style="italic" fill="#1e1e1e" stroke="#1e1e1e" stroke-width="0.22"><tspan textLength="13.6" lengthAdjust="spacingAndGlyphs">Evi1</tspan></text>
<text x="231.9" y="195.0" font-size="6" fill="#1e1e1e" stroke="#1e1e1e" stroke-width="0.22" textLength="10.2" lengthAdjust="spacingAndGlyphs">KI/+</text>
<path d="M302.2 37.5 V207.9 H512.6" fill="none" stroke="#222" stroke-width="1.3"/>
<line x1="299.2" y1="208.0" x2="302.2" y2="208.0" stroke="#222" stroke-width="1"/>
<text x="295.9" y="211.0" font-size="8.3" text-anchor="end" fill="#1e1e1e" stroke="#1e1e1e" stroke-width="0.22">0</text>
<line x1="299.2" y1="180.0" x2="302.2" y2="180.0" stroke="#222" stroke-width="1"/>
<text x="295.9" y="183.0" font-size="8.3" text-anchor="end" fill="#1e1e1e" stroke="#1e1e1e" stroke-width="0.22">5</text>
<line x1="299.2" y1="152.0" x2="302.2" y2="152.0" stroke="#222" stroke-width="1"/>
<text x="295.9" y="155.0" font-size="8.3" text-anchor="end" fill="#1e1e1e" stroke="#1e1e1e" stroke-width="0.22">10</text>
<line x1="299.2" y1="124.0" x2="302.2" y2="124.0" stroke="#222" stroke-width="1"/>
<text x="295.9" y="127.0" font-size="8.3" text-anchor="end" fill="#1e1e1e" stroke="#1e1e1e" stroke-width="0.22">15</text>
<line x1="299.2" y1="96.0" x2="302.2" y2="96.0" stroke="#222" stroke-width="1"/>
<text x="295.9" y="99.0" font-size="8.3" text-anchor="end" fill="#1e1e1e" stroke="#1e1e1e" stroke-width="0.22">20</text>
<line x1="299.2" y1="68.0" x2="302.2" y2="68.0" stroke="#222" stroke-width="1"/>
<text x="295.9" y="71.0" font-size="8.3" text-anchor="end" fill="#1e1e1e" stroke="#1e1e1e" stroke-width="0.22">25</text>
<line x1="299.2" y1="40.0" x2="302.2" y2="40.0" stroke="#222" stroke-width="1"/>
<text x="295.9" y="43.0" font-size="8.3" text-anchor="end" fill="#1e1e1e" stroke="#1e1e1e" stroke-width="0.22">30</text>
<line x1="311.2" y1="208" x2="311.2" y2="210.6" stroke="#222" stroke-width="1"/>
<text x="311.2" y="221.3" font-size="8.3" text-anchor="middle" fill="#1e1e1e" stroke="#1e1e1e" stroke-width="0.22">5</text>
<line x1="330.3" y1="208" x2="330.3" y2="210.6" stroke="#222" stroke-width="1"/>
<text x="330.3" y="221.3" font-size="8.3" text-anchor="middle" fill="#1e1e1e" stroke="#1e1e1e" stroke-width="0.22">6</text>
<line x1="349.4" y1="208" x2="349.4" y2="210.6" stroke="#222" stroke-width="1"/>
<text x="349.4" y="221.3" font-size="8.3" text-anchor="middle" fill="#1e1e1e" stroke="#1e1e1e" stroke-width="0.22">7</text>
<line x1="368.5" y1="208" x2="368.5" y2="210.6" stroke="#222" stroke-width="1"/>
<text x="368.5" y="221.3" font-size="8.3" text-anchor="middle" fill="#1e1e1e" stroke="#1e1e1e" stroke-width="0.22">8</text>
<line x1="387.6" y1="208" x2="387.6" y2="210.6" stroke="#222" stroke-width="1"/>
<text x="387.6" y="221.3" font-size="8.3" text-anchor="middle" fill="#1e1e1e" stroke="#1e1e1e" stroke-width="0.22">9</text>
<line x1="406.7" y1="208" x2="406.7" y2="210.6" stroke="#222" stroke-width="1"/>
<text x="406.7" y="221.3" font-size="8.3" text-anchor="middle" fill="#1e1e1e" stroke="#1e1e1e" stroke-width="0.22">10</text>
<line x1="425.8" y1="208" x2="425.8" y2="210.6" stroke="#222" stroke-width="1"/>
<text x="425.8" y="221.3" font-size="8.3" text-anchor="middle" fill="#1e1e1e" stroke="#1e1e1e" stroke-width="0.22">11</text>
<line x1="444.9" y1="208" x2="444.9" y2="210.6" stroke="#222" stroke-width="1"/>
<text x="444.9" y="221.3" font-size="8.3" text-anchor="middle" fill="#1e1e1e" stroke="#1e1e1e" stroke-width="0.22">12</text>
<line x1="464.0" y1="208" x2="464.0" y2="210.6" stroke="#222" stroke-width="1"/>
<text x="464.0" y="221.3" font-size="8.3" text-anchor="middle" fill="#1e1e1e" stroke="#1e1e1e" stroke-width="0.22">13</text>
<line x1="483.1" y1="208" x2="483.1" y2="210.6" stroke="#222" stroke-width="1"/>
<text x="483.1" y="221.3" font-size="8.3" text-anchor="middle" fill="#1e1e1e" stroke="#1e1e1e" stroke-width="0.22">14</text>
<line x1="502.2" y1="208" x2="502.2" y2="210.6" stroke="#222" stroke-width="1"/>
<text x="502.2" y="221.3" font-size="8.3" text-anchor="middle" fill="#1e1e1e" stroke="#1e1e1e" stroke-width="0.22">15</text>
<text x="407.3" y="234.5" font-size="8.6" font-weight="bold" text-anchor="middle" fill="#1e1e1e" textLength="19.5" lengthAdjust="spacingAndGlyphs">Weeks</text>
<text x="407.6" y="31.8" font-size="10" text-anchor="middle" fill="#1e1e1e" stroke="#1e1e1e" stroke-width="0.22" textLength="29.2" lengthAdjust="spacingAndGlyphs">Female</text>
<text transform="translate(279.90000000000003,122.7) rotate(-90)" x="0" y="0" font-size="8.4" font-weight="bold" text-anchor="middle" fill="#1e1e1e" textLength="48" lengthAdjust="spacingAndGlyphs">Body weight (g)</text>
<path d="M311.2 117.16594859216612 V124.43405140783388 M309.59999999999997 117.16594859216612 H312.8 M309.59999999999997 124.43405140783388 H312.8" stroke="#8fb4e0" stroke-width="0.9" fill="none"/>
<circle cx="309.9" cy="128.7" r="0.85" fill="#1a3468"/>
<circle cx="312.2" cy="113.5" r="0.85" fill="#1a3468"/>
<circle cx="311.7" cy="125.0" r="0.85" fill="#1a3468"/>
<circle cx="311.5" cy="117.4" r="0.85" fill="#1a3468"/>
<circle cx="311.4" cy="122.7" r="0.85" fill="#1a3468"/>
<circle cx="311.0" cy="114.8" r="0.85" fill="#1a3468"/>
<path d="M311.2 126.40970226969193 V131.99029773030804 M309.59999999999997 126.40970226969193 H312.8 M309.59999999999997 131.99029773030804 H312.8" stroke="#f0a0b0" stroke-width="0.9" fill="none"/>
<circle cx="312.7" cy="133.1" r="0.85" fill="#a00c28"/>
<circle cx="311.3" cy="137.1" r="0.85" fill="#a00c28"/>
<circle cx="310.5" cy="128.2" r="0.85" fill="#a00c28"/>
<circle cx="309.8" cy="121.0" r="0.85" fill="#a00c28"/>
<circle cx="310.7" cy="128.6" r="0.85" fill="#a00c28"/>
<circle cx="312.4" cy="127.1" r="0.85" fill="#a00c28"/>
<path d="M330.3 114.11137084628095 V120.08862915371904 M328.7 114.11137084628095 H331.90000000000003 M328.7 120.08862915371904 H331.90000000000003" stroke="#8fb4e0" stroke-width="0.9" fill="none"/>
<circle cx="329.5" cy="118.2" r="0.85" fill="#1a3468"/>
<circle cx="329.8" cy="108.7" r="0.85" fill="#1a3468"/>
<circle cx="330.3" cy="110.7" r="0.85" fill="#1a3468"/>
<circle cx="330.8" cy="125.9" r="0.85" fill="#1a3468"/>
<circle cx="331.5" cy="111.5" r="0.85" fill="#1a3468"/>
<circle cx="331.0" cy="122.3" r="0.85" fill="#1a3468"/>
<path d="M330.3 116.44010952515366 V123.55989047484634 M328.7 116.44010952515366 H331.90000000000003 M328.7 123.55989047484634 H331.90000000000003" stroke="#f0a0b0" stroke-width="0.9" fill="none"/>
<circle cx="331.2" cy="124.6" r="0.85" fill="#a00c28"/>
<circle cx="331.7" cy="117.4" r="0.85" fill="#a00c28"/>
<circle cx="329.3" cy="128.1" r="0.85" fill="#a00c28"/>
<circle cx="330.9" cy="124.5" r="0.85" fill="#a00c28"/>
<circle cx="330.4" cy="119.3" r="0.85" fill="#a00c28"/>
<circle cx="331.6" cy="119.8" r="0.85" fill="#a00c28"/>
<path d="M349.4 110.34873840605401 V116.25126159394598 M347.79999999999995 110.34873840605401 H351.0 M347.79999999999995 116.25126159394598 H351.0" stroke="#8fb4e0" stroke-width="0.9" fill="none"/>
<circle cx="349.0" cy="119.1" r="0.85" fill="#1a3468"/>
<circle cx="350.6" cy="120.0" r="0.85" fill="#1a3468"/>
<circle cx="349.6" cy="112.6" r="0.85" fill="#1a3468"/>
<circle cx="350.1" cy="120.7" r="0.85" fill="#1a3468"/>
<circle cx="348.6" cy="113.1" r="0.85" fill="#1a3468"/>
<circle cx="350.0" cy="110.2" r="0.85" fill="#1a3468"/>
<path d="M349.4 113.75089547175881 V118.6491045282412 M347.79999999999995 113.75089547175881 H351.0 M347.79999999999995 118.6491045282412 H351.0" stroke="#f0a0b0" stroke-width="0.9" fill="none"/>
<circle cx="348.7" cy="123.4" r="0.85" fill="#a00c28"/>
<circle cx="348.8" cy="123.4" r="0.85" fill="#a00c28"/>
<circle cx="350.0" cy="124.2" r="0.85" fill="#a00c28"/>
<circle cx="349.5" cy="116.3" r="0.85" fill="#a00c28"/>
<circle cx="349.7" cy="118.9" r="0.85" fill="#a00c28"/>
<circle cx="348.5" cy="112.9" r="0.85" fill="#a00c28"/>
<path d="M368.5 107.03216251246708 V112.96783748753292 M366.9 107.03216251246708 H370.1 M366.9 112.96783748753292 H370.1" stroke="#8fb4e0" stroke-width="0.9" fill="none"/>
<circle cx="368.9" cy="117.6" r="0.85" fill="#1a3468"/>
<circle cx="369.5" cy="102.5" r="0.85" fill="#1a3468"/>
<circle cx="369.7" cy="114.0" r="0.85" fill="#1a3468"/>
<circle cx="369.2" cy="104.6" r="0.85" fill="#1a3468"/>
<circle cx="369.0" cy="102.2" r="0.85" fill="#1a3468"/>
<circle cx="367.7" cy="106.0" r="0.85" fill="#1a3468"/>
<path d="M368.5 108.78676324282765 V115.81323675717235 M366.9 108.78676324282765 H370.1 M366.9 115.81323675717235 H370.1" stroke="#f0a0b0" stroke-width="0.9" fill="none"/>
<circle cx="368.6" cy="105.4" r="0.85" fill="#a00c28"/>
<circle cx="367.7" cy="118.5" r="0.85" fill="#a00c28"/>
<circle cx="369.6" cy="107.2" r="0.85" fill="#a00c28"/>
<circle cx="369.2" cy="110.9" r="0.85" fill="#a00c28"/>
<circle cx="368.1" cy="104.1" r="0.85" fill="#a00c28"/>
<circle cx="369.0" cy="106.5" r="0.85" fill="#a00c28"/>
<path d="M387.6 107.27564523389313 V111.92435476610686 M386.0 107.27564523389313 H389.20000000000005 M386.0 111.92435476610686 H389.20000000000005" stroke="#8fb4e0" stroke-width="0.9" fill="none"/>
<circle cx="386.2" cy="117.6" r="0.85" fill="#1a3468"/>
<circle cx="386.2" cy="113.6" r="0.85" fill="#1a3468"/>
<circle cx="388.5" cy="105.3" r="0.85" fill="#1a3468"/>
<circle cx="386.7" cy="103.6" r="0.85" fill="#1a3468"/>
<circle cx="387.3" cy="113.0" r="0.85" fill="#1a3468"/>
<circle cx="389.1" cy="101.6" r="0.85" fill="#1a3468"/>
<path d="M387.6 107.97286983686517 V112.82713016313484 M386.0 107.97286983686517 H389.20000000000005 M386.0 112.82713016313484 H389.20000000000005" stroke="#f0a0b0" stroke-width="0.9" fill="none"/>
<circle cx="387.1" cy="102.2" r="0.85" fill="#a00c28"/>
<circle cx="388.3" cy="112.4" r="0.85" fill="#a00c28"/>
<circle cx="387.1" cy="103.6" r="0.85" fill="#a00c28"/>
<circle cx="387.4" cy="102.1" r="0.85" fill="#a00c28"/>
<circle cx="388.3" cy="115.1" r="0.85" fill="#a00c28"/>
<circle cx="388.4" cy="117.5" r="0.85" fill="#a00c28"/>
<path d="M406.7 101.70633133551186 V108.69366866448814 M405.09999999999997 101.70633133551186 H408.3 M405.09999999999997 108.69366866448814 H408.3" stroke="#8fb4e0" stroke-width="0.9" fill="none"/>
<circle cx="406.6" cy="108.8" r="0.85" fill="#1a3468"/>
<circle cx="407.2" cy="100.4" r="0.85" fill="#1a3468"/>
<circle cx="405.5" cy="102.0" r="0.85" fill="#1a3468"/>
<circle cx="407.8" cy="104.3" r="0.85" fill="#1a3468"/>
<circle cx="407.0" cy="98.6" r="0.85" fill="#1a3468"/>
<circle cx="406.7" cy="103.3" r="0.85" fill="#1a3468"/>
<path d="M406.7 104.08425580403458 V108.91574419596542 M405.09999999999997 104.08425580403458 H408.3 M405.09999999999997 108.91574419596542 H408.3" stroke="#f0a0b0" stroke-width="0.9" fill="none"/>
<circle cx="406.0" cy="114.6" r="0.85" fill="#a00c28"/>
<circle cx="406.5" cy="108.4" r="0.85" fill="#a00c28"/>
<circle cx="406.9" cy="98.0" r="0.85" fill="#a00c28"/>
<circle cx="405.4" cy="100.2" r="0.85" fill="#a00c28"/>
<circle cx="405.7" cy="98.3" r="0.85" fill="#a00c28"/>
<circle cx="407.1" cy="99.4" r="0.85" fill="#a00c28"/>
<path d="M425.8 98.93761122394653 V104.86238877605348 M424.2 98.93761122394653 H427.40000000000003 M424.2 104.86238877605348 H427.40000000000003" stroke="#8fb4e0" stroke-width="0.9" fill="none"/>
<circle cx="427.1" cy="110.4" r="0.85" fill="#1a3468"/>
<circle cx="425.0" cy="110.6" r="0.85" fill="#1a3468"/>
<circle cx="425.1" cy="100.9" r="0.85" fill="#1a3468"/>
<circle cx="426.2" cy="103.5" r="0.85" fill="#1a3468"/>
<circle cx="426.4" cy="107.2" r="0.85" fill="#1a3468"/>
<circle cx="425.6" cy="97.6" r="0.85" fill="#1a3468"/>
<path d="M425.8 100.81071508432912 V106.78928491567088 M424.2 100.81071508432912 H427.40000000000003 M424.2 106.78928491567088 H427.40000000000003" stroke="#f0a0b0" stroke-width="0.9" fill="none"/>
<circle cx="424.4" cy="95.1" r="0.85" fill="#a00c28"/>
<circle cx="424.6" cy="102.2" r="0.85" fill="#a00c28"/>
<circle cx="425.0" cy="107.7" r="0.85" fill="#a00c28"/>
<circle cx="424.8" cy="96.8" r="0.85" fill="#a00c28"/>
<circle cx="425.0" cy="99.1" r="0.85" fill="#a00c28"/>
<circle cx="425.7" cy="104.2" r="0.85" fill="#a00c28"/>
<path d="M444.9 97.73541089368389 V103.06458910631612 M443.29999999999995 97.73541089368389 H446.5 M443.29999999999995 103.06458910631612 H446.5" stroke="#8fb4e0" stroke-width="0.9" fill="none"/>
<circle cx="444.0" cy="102.9" r="0.85" fill="#1a3468"/>
<circle cx="446.3" cy="107.6" r="0.85" fill="#1a3468"/>
<circle cx="444.7" cy="104.4" r="0.85" fill="#1a3468"/>
<circle cx="445.1" cy="100.6" r="0.85" fill="#1a3468"/>
<circle cx="444.7" cy="92.5" r="0.85" fill="#1a3468"/>
<circle cx="443.9" cy="100.8" r="0.85" fill="#1a3468"/>
<path d="M444.9 99.95931981731252 V104.64068018268748 M443.29999999999995 99.95931981731252 H446.5 M443.29999999999995 104.64068018268748 H446.5" stroke="#f0a0b0" stroke-width="0.9" fill="none"/>
<circle cx="444.5" cy="107.6" r="0.85" fill="#a00c28"/>
<circle cx="446.2" cy="102.6" r="0.85" fill="#a00c28"/>
<circle cx="444.3" cy="104.2" r="0.85" fill="#a00c28"/>
<circle cx="444.5" cy="110.8" r="0.85" fill="#a00c28"/>
<circle cx="445.5" cy="93.8" r="0.85" fill="#a00c28"/>
<circle cx="444.3" cy="95.3" r="0.85" fill="#a00c28"/>
<path d="M464.0 97.33908246932174 V104.26091753067826 M462.4 97.33908246932174 H465.6 M462.4 104.26091753067826 H465.6" stroke="#8fb4e0" stroke-width="0.9" fill="none"/>
<circle cx="462.5" cy="103.8" r="0.85" fill="#1a3468"/>
<circle cx="463.7" cy="99.9" r="0.85" fill="#1a3468"/>
<circle cx="463.1" cy="100.6" r="0.85" fill="#1a3468"/>
<circle cx="462.7" cy="102.4" r="0.85" fill="#1a3468"/>
<circle cx="463.6" cy="97.0" r="0.85" fill="#1a3468"/>
<circle cx="462.7" cy="108.5" r="0.85" fill="#1a3468"/>
<path d="M464.0 97.86752382862815 V104.53247617137185 M462.4 97.86752382862815 H465.6 M462.4 104.53247617137185 H465.6" stroke="#f0a0b0" stroke-width="0.9" fill="none"/>
<circle cx="464.2" cy="95.8" r="0.85" fill="#a00c28"/>
<circle cx="463.9" cy="99.3" r="0.85" fill="#a00c28"/>
<circle cx="463.7" cy="105.7" r="0.85" fill="#a00c28"/>
<circle cx="462.9" cy="94.5" r="0.85" fill="#a00c28"/>
<circle cx="465.1" cy="93.8" r="0.85" fill="#a00c28"/>
<circle cx="465.4" cy="103.7" r="0.85" fill="#a00c28"/>
<path d="M483.1 95.46102118001802 V101.93897881998198 M481.5 95.46102118001802 H484.70000000000005 M481.5 101.93897881998198 H484.70000000000005" stroke="#8fb4e0" stroke-width="0.9" fill="none"/>
<circle cx="483.6" cy="90.3" r="0.85" fill="#1a3468"/>
<circle cx="483.8" cy="103.6" r="0.85" fill="#1a3468"/>
<circle cx="482.7" cy="98.7" r="0.85" fill="#1a3468"/>
<circle cx="484.0" cy="97.9" r="0.85" fill="#1a3468"/>
<circle cx="483.2" cy="94.6" r="0.85" fill="#1a3468"/>
<circle cx="484.5" cy="98.3" r="0.85" fill="#1a3468"/>
<path d="M483.1 94.89347503462099 V101.706524965379 M481.5 94.89347503462099 H484.70000000000005 M481.5 101.706524965379 H484.70000000000005" stroke="#f0a0b0" stroke-width="0.9" fill="none"/>
<circle cx="484.1" cy="105.9" r="0.85" fill="#a00c28"/>
<circle cx="482.3" cy="94.7" r="0.85" fill="#a00c28"/>
<circle cx="482.4" cy="98.1" r="0.85" fill="#a00c28"/>
<circle cx="483.6" cy="97.0" r="0.85" fill="#a00c28"/>
<circle cx="483.4" cy="105.7" r="0.85" fill="#a00c28"/>
<circle cx="481.9" cy="103.9" r="0.85" fill="#a00c28"/>
<path d="M502.2 94.86591415804473 V100.33408584195526 M500.59999999999997 94.86591415804473 H503.8 M500.59999999999997 100.33408584195526 H503.8" stroke="#8fb4e0" stroke-width="0.9" fill="none"/>
<circle cx="501.1" cy="106.4" r="0.85" fill="#1a3468"/>
<circle cx="500.9" cy="96.1" r="0.85" fill="#1a3468"/>
<circle cx="503.4" cy="90.3" r="0.85" fill="#1a3468"/>
<circle cx="502.6" cy="106.2" r="0.85" fill="#1a3468"/>
<circle cx="501.6" cy="91.1" r="0.85" fill="#1a3468"/>
<circle cx="502.7" cy="92.9" r="0.85" fill="#1a3468"/>
<path d="M502.2 93.67835148875325 V100.12164851124676 M500.59999999999997 93.67835148875325 H503.8 M500.59999999999997 100.12164851124676 H503.8" stroke="#f0a0b0" stroke-width="0.9" fill="none"/>
<circle cx="502.3" cy="95.8" r="0.85" fill="#a00c28"/>
<circle cx="502.3" cy="90.1" r="0.85" fill="#a00c28"/>
<circle cx="503.0" cy="104.8" r="0.85" fill="#a00c28"/>
<circle cx="502.2" cy="89.8" r="0.85" fill="#a00c28"/>
<circle cx="501.5" cy="100.7" r="0.85" fill="#a00c28"/>
<circle cx="502.1" cy="103.9" r="0.85" fill="#a00c28"/>
<polyline points="311.2,120.8 330.3,117.1 349.4,113.3 368.5,110.0 387.6,109.6 406.7,105.2 425.8,101.9 444.9,100.4 464.0,100.8 483.1,98.7 502.2,97.6" fill="none" stroke="#1c4a7c" stroke-width="2" stroke-linejoin="round"/>
<polyline points="311.2,129.2 330.3,120.0 349.4,116.2 368.5,112.3 387.6,110.4 406.7,106.5 425.8,103.8 444.9,102.3 464.0,101.2 483.1,98.3 502.2,96.9" fill="none" stroke="#c4132f" stroke-width="2" stroke-linejoin="round"/>
<text x="303.5" y="104.8" font-size="8.3" fill="#1e1e1e" stroke="#1e1e1e" stroke-width="0.22" textLength="20.8" lengthAdjust="spacingAndGlyphs">0.032</text>
<line x1="303.5" y1="105.7" x2="324.5" y2="105.7" stroke="#777" stroke-width="0.7"/>
<text x="320.2" y="92.3" font-size="8.3" fill="#1e1e1e" stroke="#1e1e1e" stroke-width="0.22" textLength="20.8" lengthAdjust="spacingAndGlyphs">0.223</text>
<line x1="320.2" y1="93.2" x2="341.2" y2="93.2" stroke="#777" stroke-width="0.7"/>
<text x="341.9" y="100" font-size="8.3" fill="#1e1e1e" stroke="#1e1e1e" stroke-width="0.22" textLength="20.8" lengthAdjust="spacingAndGlyphs">0.210</text>
<line x1="341.9" y1="100.9" x2="362.9" y2="100.9" stroke="#777" stroke-width="0.7"/>
<text x="358.7" y="89.4" font-size="8.3" fill="#1e1e1e" stroke="#1e1e1e" stroke-width="0.22" textLength="20.8" lengthAdjust="spacingAndGlyphs">0.105</text>
<line x1="358.7" y1="90.30000000000001" x2="379.7" y2="90.30000000000001" stroke="#777" stroke-width="0.7"/>
<text x="376" y="98.3" font-size="8.3" fill="#1e1e1e" stroke="#1e1e1e" stroke-width="0.22" textLength="20.8" lengthAdjust="spacingAndGlyphs">0.519</text>
<line x1="376" y1="99.2" x2="397" y2="99.2" stroke="#777" stroke-width="0.7"/>
<text x="396.3" y="88.8" font-size="8.3" fill="#1e1e1e" stroke="#1e1e1e" stroke-width="0.22" textLength="20.8" lengthAdjust="spacingAndGlyphs">0.273</text>
<line x1="396.3" y1="89.7" x2="417.3" y2="89.7" stroke="#777" stroke-width="0.7"/>
<text x="414.2" y="78.8" font-size="8.3" fill="#1e1e1e" stroke="#1e1e1e" stroke-width="0.22" textLength="20.8" lengthAdjust="spacingAndGlyphs">0.096</text>
<line x1="414.2" y1="79.7" x2="435.2" y2="79.7" stroke="#777" stroke-width="0.7"/>
<text x="434.8" y="88.8" font-size="8.3" fill="#1e1e1e" stroke="#1e1e1e" stroke-width="0.22" textLength="20.8" lengthAdjust="spacingAndGlyphs">0.149</text>
<line x1="434.8" y1="89.7" x2="455.8" y2="89.7" stroke="#777" stroke-width="0.7"/>
<text x="452.7" y="78.5" font-size="8.3" fill="#1e1e1e" stroke="#1e1e1e" stroke-width="0.22" textLength="20.8" lengthAdjust="spacingAndGlyphs">0.298</text>
<line x1="452.7" y1="79.4" x2="473.7" y2="79.4" stroke="#777" stroke-width="0.7"/>
<text x="472.3" y="86.5" font-size="8.3" fill="#1e1e1e" stroke="#1e1e1e" stroke-width="0.22" textLength="20.8" lengthAdjust="spacingAndGlyphs">0.815</text>
<line x1="472.3" y1="87.4" x2="493.3" y2="87.4" stroke="#777" stroke-width="0.7"/>
<text x="492" y="75.4" font-size="8.3" fill="#1e1e1e" stroke="#1e1e1e" stroke-width="0.22" textLength="20.8" lengthAdjust="spacingAndGlyphs">0.865</text>
<line x1="492" y1="76.30000000000001" x2="513" y2="76.30000000000001" stroke="#777" stroke-width="0.7"/>
<circle cx="441" cy="184.5" r="1.3" fill="#2b4a80"/>
<line x1="445.6" y1="184.5" x2="460.1" y2="184.5" stroke="#5f7fa8" stroke-width="1"/>
<text x="461.8" y="186.9" font-size="7.4" font-style="italic" fill="#1e1e1e" stroke="#1e1e1e" stroke-width="0.22"><tspan textLength="13.6" lengthAdjust="spacingAndGlyphs">Evi1</tspan></text>
<text x="476.0" y="185.0" font-size="6" fill="#1e1e1e" stroke="#1e1e1e" stroke-width="0.22" textLength="9.6" lengthAdjust="spacingAndGlyphs">+/+</text>
<circle cx="441" cy="194.5" r="1.3" fill="#8a1028"/>
<line x1="445.6" y1="194.5" x2="460.1" y2="194.5" stroke="#d83048" stroke-width="1"/>
<text x="461.8" y="196.9" font-size="7.4" font-style="italic" fill="#1e1e1e" stroke="#1e1e1e" stroke-width="0.22"><tspan textLength="13.6" lengthAdjust="spacingAndGlyphs">Evi1</tspan></text>
<text x="476.0" y="195.0" font-size="6" fill="#1e1e1e" stroke="#1e1e1e" stroke-width="0.22" textLength="10.2" lengthAdjust="spacingAndGlyphs">KI/+</text>
<path d="M282.4 279 V453.8 H495.8" fill="none" stroke="#222" stroke-width="1.4"/>
<line x1="279.4" y1="453.8" x2="282.4" y2="453.8" stroke="#222" stroke-width="1"/>
<text x="276.09999999999997" y="456.5" font-size="7.8" text-anchor="end" fill="#1e1e1e" stroke="#1e1e1e" stroke-width="0.22">0</text>
<line x1="279.4" y1="419.40000000000003" x2="282.4" y2="419.40000000000003" stroke="#222" stroke-width="1"/>
<text x="276.09999999999997" y="422.1" font-size="7.8" text-anchor="end" fill="#1e1e1e" stroke="#1e1e1e" stroke-width="0.22">0.2</text>
<line x1="279.4" y1="385.0" x2="282.4" y2="385.0" stroke="#222" stroke-width="1"/>
<text x="276.09999999999997" y="387.7" font-size="7.8" text-anchor="end" fill="#1e1e1e" stroke="#1e1e1e" stroke-width="0.22">0.4</text>
<line x1="279.4" y1="350.6" x2="282.4" y2="350.6" stroke="#222" stroke-width="1"/>
<text x="276.09999999999997" y="353.3" font-size="7.8" text-anchor="end" fill="#1e1e1e" stroke="#1e1e1e" stroke-width="0.22">0.6</text>
<line x1="279.4" y1="316.20000000000005" x2="282.4" y2="316.20000000000005" stroke="#222" stroke-width="1"/>
<text x="276.09999999999997" y="318.90000000000003" font-size="7.8" text-anchor="end" fill="#1e1e1e" stroke="#1e1e1e" stroke-width="0.22">0.8</text>
<line x1="279.4" y1="281.8" x2="282.4" y2="281.8" stroke="#222" stroke-width="1"/>
<text x="276.09999999999997" y="284.5" font-size="7.8" text-anchor="end" fill="#1e1e1e" stroke="#1e1e1e" stroke-width="0.22">1.0</text>
<text transform="translate(258.4,365.8) rotate(-90)" font-size="8.2" font-weight="bold" text-anchor="middle" fill="#1e1e1e" textLength="26" lengthAdjust="spacingAndGlyphs">D3/palm</text>
<text x="335.2" y="463.7" font-size="8" text-anchor="middle" fill="#1e1e1e" stroke="#1e1e1e" stroke-width="0.22">WT</text>
<text x="442.2" y="463.5" font-size="8" text-anchor="middle" fill="#1e1e1e" stroke="#1e1e1e" stroke-width="0.22">KI</text>
<line x1="332.9" y1="275.9" x2="440.1" y2="275.9" stroke="#555" stroke-width="1.5"/>
<text x="371.1" y="271.7" font-size="7.6" fill="#1e1e1e" stroke="#1e1e1e" stroke-width="0.22" textLength="31.2" lengthAdjust="spacingAndGlyphs"><tspan font-style="italic">P</tspan> = .726</text>
<line x1="322.1" y1="292.7" x2="348.5" y2="292.7" stroke="#4a4a4a" stroke-width="1.35"/>
<line x1="322.1" y1="301.0" x2="348.5" y2="301.0" stroke="#4a4a4a" stroke-width="1.35"/>
<path d="M335.3 292.7 V301.0 M333.3 297 H337.3" stroke="#444" stroke-width="1" fill="none"/>
<circle cx="335.3" cy="285.3" r="1.3" fill="#c8102e"/>
<circle cx="335.3" cy="285.3" r="0.6" fill="#6a0818"/>
<circle cx="335.3" cy="289.9" r="1.3" fill="#c8102e"/>
<circle cx="335.3" cy="289.9" r="0.6" fill="#6a0818"/>
<circle cx="335.3" cy="292.8" r="1.3" fill="#c8102e"/>
<circle cx="335.3" cy="292.8" r="0.6" fill="#6a0818"/>
<circle cx="335.3" cy="294.2" r="1.3" fill="#c8102e"/>
<circle cx="335.3" cy="294.2" r="0.6" fill="#6a0818"/>
<circle cx="335.3" cy="302.2" r="1.3" fill="#c8102e"/>
<circle cx="335.3" cy="302.2" r="0.6" fill="#6a0818"/>
<circle cx="335.3" cy="317.3" r="1.3" fill="#c8102e"/>
<circle cx="335.3" cy="317.3" r="0.6" fill="#6a0818"/>
<line x1="428.7" y1="289.8" x2="455.09999999999997" y2="289.8" stroke="#4a4a4a" stroke-width="1.35"/>
<line x1="428.7" y1="299.1" x2="455.09999999999997" y2="299.1" stroke="#4a4a4a" stroke-width="1.35"/>
<path d="M441.9 289.8 V299.1 M439.9 294.5 H443.9" stroke="#444" stroke-width="1" fill="none"/>
<circle cx="441.9" cy="282.4" r="1.3" fill="#c8102e"/>
<circle cx="441.9" cy="282.4" r="0.6" fill="#6a0818"/>
<circle cx="441.9" cy="288.0" r="1.3" fill="#c8102e"/>
<circle cx="441.9" cy="288.0" r="0.6" fill="#6a0818"/>
<circle cx="441.9" cy="291.1" r="1.3" fill="#c8102e"/>
<circle cx="441.9" cy="291.1" r="0.6" fill="#6a0818"/>
<circle cx="441.9" cy="293.0" r="1.3" fill="#c8102e"/>
<circle cx="441.9" cy="293.0" r="0.6" fill="#6a0818"/>
<circle cx="441.9" cy="299.9" r="1.3" fill="#c8102e"/>
<circle cx="441.9" cy="299.9" r="0.6" fill="#6a0818"/>
<circle cx="441.9" cy="308.6" r="1.3" fill="#c8102e"/>
<circle cx="441.9" cy="308.6" r="0.6" fill="#6a0818"/>
<circle cx="441.9" cy="312.0" r="1.3" fill="#c8102e"/>
<circle cx="441.9" cy="312.0" r="0.6" fill="#6a0818"/>
<text x="67.2" y="290.5" font-size="10" font-style="italic" fill="#1e1e1e" stroke="#1e1e1e" stroke-width="0.12" textLength="17.3" lengthAdjust="spacingAndGlyphs">Evi1</text>
<text x="84.8" y="287.6" font-size="7.4" fill="#1e1e1e" stroke="#1e1e1e" stroke-width="0.12" textLength="12.7" lengthAdjust="spacingAndGlyphs">+/+</text>
<text x="151.3" y="290.5" font-size="10" font-style="italic" fill="#1e1e1e" stroke="#1e1e1e" stroke-width="0.12" textLength="17.6" lengthAdjust="spacingAndGlyphs">Evi1</text>
<text x="169.4" y="287.6" font-size="7.4" fill="#1e1e1e" stroke="#1e1e1e" stroke-width="0.12" textLength="14.6" lengthAdjust="spacingAndGlyphs">KI/+</text>
<text x="74.8" y="447.8" font-size="8" fill="#222" stroke="#222" stroke-width="0.08" textLength="30.3" lengthAdjust="spacingAndGlyphs">D3/Palm</text>
<text x="106.6" y="447.8" font-size="8" fill="#222">=</text>
<line x1="115.5" y1="444.6" x2="163.3" y2="444.6" stroke="#444" stroke-width="1"/>
<text x="122.1" y="440.6" font-size="8" fill="#c8304a" stroke="#c8304a" stroke-width="0.2" textLength="33.5" lengthAdjust="spacingAndGlyphs">D3 length</text>
<text x="119" y="453.3" font-size="8" fill="#4a6a9a" stroke="#4a6a9a" stroke-width="0.2" textLength="40.6" lengthAdjust="spacingAndGlyphs">Palm length</text></g></svg>
</div></body></html>
